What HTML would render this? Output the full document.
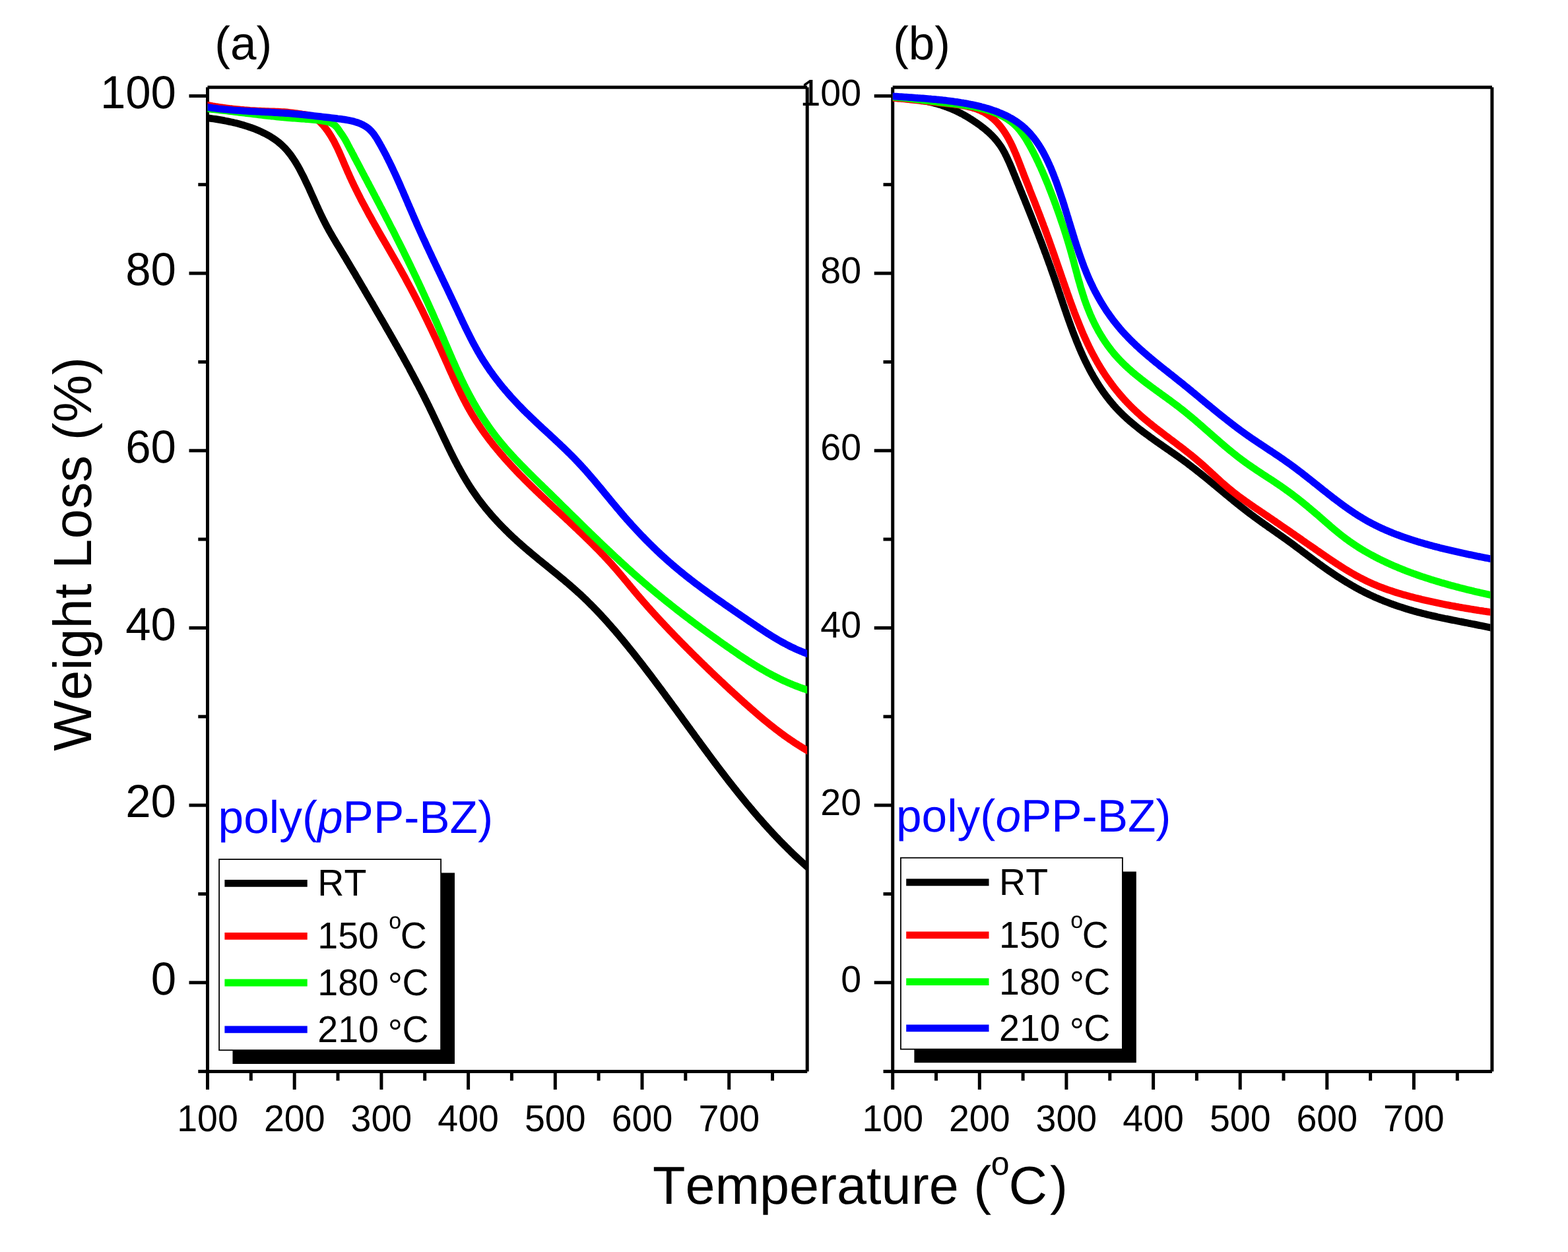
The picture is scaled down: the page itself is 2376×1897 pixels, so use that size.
<!DOCTYPE html>
<html lang="en">
<head>
<meta charset="utf-8">
<title>TGA curves of poly(pPP-BZ) and poly(oPP-BZ)</title>
<style>
html,body{margin:0;padding:0;background:#fff;}
body{width:2376px;height:1897px;overflow:hidden;}
svg{display:block;}
text{white-space:pre;font-kerning:none;font-variant-ligatures:none;text-rendering:geometricPrecision;}
</style>
</head>
<body>
<svg xmlns="http://www.w3.org/2000/svg" width="2376" height="1897" viewBox="0 0 2376 1897" font-family='"Liberation Sans", sans-serif'>
<rect x="0" y="0" width="2376" height="1897" fill="#ffffff"/>
<defs>
<clipPath id="clip_a"><rect x="314.5" y="132.2" width="908.7" height="1491.2"/></clipPath>
<clipPath id="clip_b"><rect x="1352.7" y="132.2" width="905.7" height="1491.2"/></clipPath>
</defs>
<g font-size="69" text-anchor="end" fill="#000">
<text transform="translate(267.0,163.7) scale(1,1.02)">100</text>
<text transform="translate(267.0,432.4) scale(1,1.02)">80</text>
<text transform="translate(267.0,701.1) scale(1,1.02)">60</text>
<text transform="translate(267.0,969.7) scale(1,1.02)">40</text>
<text transform="translate(267.0,1238.4) scale(1,1.02)">20</text>
<text transform="translate(267.0,1507.1) scale(1,1.02)">0</text>
</g>
<g font-size="55.5" text-anchor="end" fill="#000">
<text transform="translate(1305.1,159.9) scale(1,1.02)">100</text>
<text transform="translate(1305.1,428.6) scale(1,1.02)">80</text>
<text transform="translate(1305.1,697.3) scale(1,1.02)">60</text>
<text transform="translate(1305.1,965.9) scale(1,1.02)">40</text>
<text transform="translate(1305.1,1234.6) scale(1,1.02)">20</text>
<text transform="translate(1305.1,1503.3) scale(1,1.02)">0</text>
</g>
<g font-size="55.5" text-anchor="middle" fill="#000">
<text transform="translate(314.5,1714.3) scale(1,1.02)">100</text>
<text transform="translate(446.2,1714.3) scale(1,1.02)">200</text>
<text transform="translate(577.9,1714.3) scale(1,1.02)">300</text>
<text transform="translate(709.6,1714.3) scale(1,1.02)">400</text>
<text transform="translate(841.3,1714.3) scale(1,1.02)">500</text>
<text transform="translate(973.0,1714.3) scale(1,1.02)">600</text>
<text transform="translate(1104.7,1714.3) scale(1,1.02)">700</text>
</g>
<g font-size="55.5" text-anchor="middle" fill="#000">
<text transform="translate(1352.7,1714.3) scale(1,1.02)">100</text>
<text transform="translate(1484.3,1714.3) scale(1,1.02)">200</text>
<text transform="translate(1615.9,1714.3) scale(1,1.02)">300</text>
<text transform="translate(1747.6,1714.3) scale(1,1.02)">400</text>
<text transform="translate(1879.2,1714.3) scale(1,1.02)">500</text>
<text transform="translate(2010.8,1714.3) scale(1,1.02)">600</text>
<text transform="translate(2142.4,1714.3) scale(1,1.02)">700</text>
</g>
<g stroke="#000" stroke-width="5.0" fill="none" stroke-linecap="butt">
<path d="M314.5,132.2 H1223.2 M1223.2,132.2 V1623.4 M314.5,1623.4 H1223.2 M314.5,132.2 V1623.4"/>
<line x1="300.3" y1="1623.4" x2="314.5" y2="1623.4"/>
<line x1="286.5" y1="1488.8" x2="314.5" y2="1488.8"/>
<line x1="300.3" y1="1354.5" x2="314.5" y2="1354.5"/>
<line x1="286.5" y1="1220.1" x2="314.5" y2="1220.1"/>
<line x1="300.3" y1="1085.8" x2="314.5" y2="1085.8"/>
<line x1="286.5" y1="951.4" x2="314.5" y2="951.4"/>
<line x1="300.3" y1="817.1" x2="314.5" y2="817.1"/>
<line x1="286.5" y1="682.8" x2="314.5" y2="682.8"/>
<line x1="300.3" y1="548.4" x2="314.5" y2="548.4"/>
<line x1="286.5" y1="414.1" x2="314.5" y2="414.1"/>
<line x1="300.3" y1="279.7" x2="314.5" y2="279.7"/>
<line x1="286.5" y1="145.4" x2="314.5" y2="145.4"/>
<line x1="314.5" y1="1623.4" x2="314.5" y2="1650.9"/>
<line x1="380.3" y1="1623.4" x2="380.3" y2="1637.4"/>
<line x1="446.2" y1="1623.4" x2="446.2" y2="1650.9"/>
<line x1="512.0" y1="1623.4" x2="512.0" y2="1637.4"/>
<line x1="577.9" y1="1623.4" x2="577.9" y2="1650.9"/>
<line x1="643.7" y1="1623.4" x2="643.7" y2="1637.4"/>
<line x1="709.6" y1="1623.4" x2="709.6" y2="1650.9"/>
<line x1="775.4" y1="1623.4" x2="775.4" y2="1637.4"/>
<line x1="841.3" y1="1623.4" x2="841.3" y2="1650.9"/>
<line x1="907.1" y1="1623.4" x2="907.1" y2="1637.4"/>
<line x1="973.0" y1="1623.4" x2="973.0" y2="1650.9"/>
<line x1="1038.8" y1="1623.4" x2="1038.8" y2="1637.4"/>
<line x1="1104.7" y1="1623.4" x2="1104.7" y2="1650.9"/>
<line x1="1170.5" y1="1623.4" x2="1170.5" y2="1637.4"/>
</g>
<g stroke="#000" stroke-width="5.0" fill="none" stroke-linecap="butt">
<path d="M1352.7,132.2 H2260.9 M2260.9,132.2 V1623.4 M1352.7,1623.4 H2260.9 M1352.7,132.2 V1623.4"/>
<line x1="1338.5" y1="1623.4" x2="1352.7" y2="1623.4"/>
<line x1="1324.7" y1="1488.8" x2="1352.7" y2="1488.8"/>
<line x1="1338.5" y1="1354.5" x2="1352.7" y2="1354.5"/>
<line x1="1324.7" y1="1220.1" x2="1352.7" y2="1220.1"/>
<line x1="1338.5" y1="1085.8" x2="1352.7" y2="1085.8"/>
<line x1="1324.7" y1="951.4" x2="1352.7" y2="951.4"/>
<line x1="1338.5" y1="817.1" x2="1352.7" y2="817.1"/>
<line x1="1324.7" y1="682.8" x2="1352.7" y2="682.8"/>
<line x1="1338.5" y1="548.4" x2="1352.7" y2="548.4"/>
<line x1="1324.7" y1="414.1" x2="1352.7" y2="414.1"/>
<line x1="1338.5" y1="279.7" x2="1352.7" y2="279.7"/>
<line x1="1324.7" y1="145.4" x2="1352.7" y2="145.4"/>
<line x1="1352.7" y1="1623.4" x2="1352.7" y2="1650.9"/>
<line x1="1418.5" y1="1623.4" x2="1418.5" y2="1637.4"/>
<line x1="1484.3" y1="1623.4" x2="1484.3" y2="1650.9"/>
<line x1="1550.1" y1="1623.4" x2="1550.1" y2="1637.4"/>
<line x1="1615.9" y1="1623.4" x2="1615.9" y2="1650.9"/>
<line x1="1681.8" y1="1623.4" x2="1681.8" y2="1637.4"/>
<line x1="1747.6" y1="1623.4" x2="1747.6" y2="1650.9"/>
<line x1="1813.4" y1="1623.4" x2="1813.4" y2="1637.4"/>
<line x1="1879.2" y1="1623.4" x2="1879.2" y2="1650.9"/>
<line x1="1945.0" y1="1623.4" x2="1945.0" y2="1637.4"/>
<line x1="2010.8" y1="1623.4" x2="2010.8" y2="1650.9"/>
<line x1="2076.6" y1="1623.4" x2="2076.6" y2="1637.4"/>
<line x1="2142.4" y1="1623.4" x2="2142.4" y2="1650.9"/>
<line x1="2208.3" y1="1623.4" x2="2208.3" y2="1637.4"/>
</g>
<path d="M302.4,177.0 L314.4,178.8 L317.4,179.2 L320.4,179.6 L323.4,180.0 L326.4,180.4 L329.3,180.9 L332.3,181.4 L335.2,181.9 L338.1,182.4 L340.9,183.0 L343.8,183.5 L346.6,184.1 L349.4,184.7 L352.2,185.3 L355.0,186.0 L357.7,186.6 L360.5,187.3 L363.2,188.0 L365.8,188.8 L368.5,189.5 L371.1,190.3 L373.7,191.1 L376.3,192.0 L378.8,192.8 L381.3,193.7 L383.8,194.6 L386.3,195.6 L388.7,196.6 L391.1,197.6 L393.5,198.6 L395.9,199.7 L398.2,200.8 L400.5,201.9 L402.7,203.0 L405.0,204.2 L407.1,205.4 L409.3,206.7 L411.4,208.0 L413.5,209.3 L415.6,210.7 L417.6,212.1 L419.5,213.5 L421.5,215.0 L423.3,216.5 L425.2,218.1 L427.0,219.7 L428.7,221.4 L430.5,223.1 L432.1,224.8 L433.8,226.6 L435.3,228.4 L436.9,230.3 L438.4,232.2 L439.9,234.1 L441.4,236.1 L442.8,238.1 L444.2,240.1 L445.5,242.1 L446.9,244.2 L448.2,246.3 L449.4,248.4 L450.7,250.6 L452.0,252.8 L453.2,254.9 L454.4,257.1 L455.6,259.4 L456.7,261.6 L457.9,263.9 L459.1,266.1 L460.2,268.4 L461.3,270.7 L462.4,273.0 L463.5,275.3 L464.6,277.6 L465.7,279.9 L466.8,282.2 L467.9,284.6 L469.0,286.9 L470.0,289.3 L471.1,291.6 L472.1,294.0 L473.2,296.3 L474.3,298.7 L475.3,301.0 L476.4,303.4 L477.4,305.8 L478.5,308.1 L479.5,310.5 L480.6,312.8 L481.7,315.2 L482.7,317.5 L483.8,319.8 L484.9,322.2 L486.0,324.5 L487.1,326.8 L488.2,329.1 L489.3,331.4 L490.4,333.7 L491.6,335.9 L492.7,338.2 L493.9,340.4 L495.1,342.7 L496.3,344.9 L497.5,347.1 L498.7,349.3 L499.9,351.5 L501.2,353.6 L502.4,355.8 L503.7,358.0 L504.9,360.1 L506.2,362.3 L507.5,364.4 L508.7,366.5 L510.0,368.7 L511.3,370.8 L512.6,372.9 L513.9,375.1 L515.2,377.2 L516.5,379.3 L517.7,381.4 L519.0,383.6 L520.3,385.7 L521.6,387.8 L522.9,389.9 L524.2,392.1 L525.4,394.2 L526.7,396.3 L528.0,398.5 L529.3,400.6 L530.5,402.7 L531.8,404.9 L533.1,407.0 L534.4,409.2 L535.6,411.3 L536.9,413.4 L538.2,415.6 L539.4,417.7 L540.7,419.9 L542.0,422.0 L543.2,424.2 L544.5,426.3 L545.8,428.5 L547.0,430.6 L548.3,432.8 L549.5,434.9 L550.8,437.1 L552.1,439.2 L553.3,441.4 L554.6,443.5 L555.8,445.7 L557.1,447.8 L558.4,450.0 L559.6,452.1 L560.9,454.3 L562.1,456.4 L563.4,458.6 L564.7,460.7 L565.9,462.9 L567.2,465.0 L568.4,467.2 L569.7,469.3 L570.9,471.5 L572.2,473.7 L573.5,475.8 L574.7,478.0 L576.0,480.1 L577.2,482.3 L578.5,484.4 L579.7,486.6 L581.0,488.8 L582.2,490.9 L583.5,493.1 L584.7,495.2 L586.0,497.4 L587.2,499.6 L588.5,501.7 L589.7,503.9 L591.0,506.1 L592.2,508.2 L593.5,510.4 L594.7,512.6 L595.9,514.7 L597.2,516.9 L598.4,519.1 L599.6,521.3 L600.9,523.4 L602.1,525.6 L603.3,527.8 L604.6,530.0 L605.8,532.2 L607.0,534.4 L608.2,536.6 L609.5,538.7 L610.7,540.9 L611.9,543.1 L613.1,545.3 L614.3,547.5 L615.5,549.7 L616.7,551.9 L617.9,554.1 L619.2,556.3 L620.4,558.6 L621.5,560.8 L622.7,563.0 L623.9,565.2 L625.1,567.4 L626.3,569.6 L627.5,571.9 L628.7,574.1 L629.9,576.3 L631.0,578.6 L632.2,580.8 L633.4,583.0 L634.6,585.3 L635.7,587.5 L636.9,589.8 L638.1,592.0 L639.2,594.3 L640.4,596.5 L641.5,598.8 L642.7,601.1 L643.8,603.3 L644.9,605.6 L646.1,607.9 L647.2,610.2 L648.3,612.4 L649.5,614.7 L650.6,617.0 L651.7,619.3 L652.8,621.6 L653.9,623.9 L655.0,626.2 L656.1,628.5 L657.2,630.8 L658.3,633.1 L659.4,635.5 L660.5,637.8 L661.6,640.1 L662.7,642.4 L663.8,644.7 L664.9,647.1 L666.0,649.4 L667.1,651.7 L668.2,654.0 L669.3,656.3 L670.4,658.6 L671.5,661.0 L672.6,663.3 L673.7,665.6 L674.8,667.9 L675.9,670.2 L677.0,672.5 L678.1,674.8 L679.2,677.1 L680.3,679.4 L681.4,681.7 L682.6,684.0 L683.7,686.3 L684.8,688.5 L686.0,690.8 L687.1,693.1 L688.3,695.3 L689.4,697.6 L690.6,699.8 L691.8,702.1 L692.9,704.3 L694.1,706.5 L695.3,708.7 L696.5,710.9 L697.7,713.1 L699.0,715.3 L700.2,717.5 L701.4,719.7 L702.7,721.8 L704.0,724.0 L705.2,726.1 L706.5,728.3 L707.8,730.4 L709.1,732.5 L710.4,734.6 L711.7,736.7 L713.1,738.8 L714.4,740.8 L715.8,742.9 L717.2,744.9 L718.6,746.9 L720.0,748.9 L721.4,750.9 L722.8,752.9 L724.2,754.9 L725.7,756.9 L727.1,758.8 L728.6,760.7 L730.1,762.7 L731.6,764.6 L733.1,766.5 L734.6,768.4 L736.1,770.3 L737.7,772.1 L739.2,774.0 L740.8,775.9 L742.4,777.7 L743.9,779.5 L745.5,781.4 L747.1,783.2 L748.7,785.0 L750.4,786.8 L752.0,788.5 L753.6,790.3 L755.3,792.1 L756.9,793.8 L758.6,795.6 L760.3,797.3 L762.0,799.0 L763.7,800.7 L765.4,802.4 L767.1,804.1 L768.8,805.8 L770.5,807.5 L772.3,809.2 L774.0,810.9 L775.8,812.5 L777.5,814.2 L779.3,815.8 L781.1,817.4 L782.9,819.1 L784.7,820.7 L786.5,822.3 L788.3,823.9 L790.1,825.5 L791.9,827.1 L793.7,828.7 L795.6,830.3 L797.4,831.8 L799.2,833.4 L801.1,835.0 L802.9,836.5 L804.8,838.1 L806.6,839.6 L808.5,841.2 L810.4,842.7 L812.2,844.3 L814.1,845.8 L816.0,847.4 L817.9,848.9 L819.7,850.4 L821.6,852.0 L823.5,853.5 L825.4,855.0 L827.3,856.5 L829.2,858.1 L831.0,859.6 L832.9,861.1 L834.8,862.7 L836.7,864.2 L838.6,865.7 L840.4,867.3 L842.3,868.8 L844.2,870.3 L846.1,871.9 L847.9,873.4 L849.8,875.0 L851.7,876.5 L853.5,878.1 L855.4,879.6 L857.2,881.2 L859.1,882.7 L860.9,884.3 L862.7,885.9 L864.6,887.5 L866.4,889.1 L868.2,890.6 L870.0,892.2 L871.8,893.9 L873.6,895.5 L875.4,897.1 L877.2,898.7 L879.0,900.3 L880.8,902.0 L882.5,903.6 L884.3,905.3 L886.0,907.0 L887.8,908.6 L889.5,910.3 L891.2,912.0 L892.9,913.7 L894.6,915.4 L896.3,917.1 L898.0,918.8 L899.7,920.5 L901.4,922.3 L903.1,924.0 L904.8,925.8 L906.4,927.5 L908.1,929.3 L909.7,931.0 L911.4,932.8 L913.0,934.6 L914.6,936.3 L916.3,938.1 L917.9,939.9 L919.5,941.7 L921.1,943.5 L922.7,945.3 L924.3,947.1 L925.9,948.9 L927.5,950.8 L929.1,952.6 L930.7,954.4 L932.3,956.2 L933.8,958.1 L935.4,959.9 L937.0,961.8 L938.5,963.6 L940.1,965.5 L941.6,967.4 L943.2,969.2 L944.7,971.1 L946.3,972.9 L947.8,974.8 L949.3,976.7 L950.9,978.6 L952.4,980.5 L953.9,982.4 L955.4,984.3 L956.9,986.1 L958.5,988.0 L960.0,989.9 L961.5,991.8 L963.0,993.7 L964.5,995.7 L966.0,997.6 L967.5,999.5 L969.0,1001.4 L970.5,1003.3 L972.0,1005.2 L973.5,1007.2 L975.0,1009.1 L976.4,1011.0 L977.9,1012.9 L979.4,1014.9 L980.9,1016.8 L982.3,1018.7 L983.8,1020.7 L985.3,1022.6 L986.8,1024.6 L988.2,1026.5 L989.7,1028.5 L991.2,1030.4 L992.6,1032.4 L994.1,1034.3 L995.5,1036.2 L997.0,1038.2 L998.5,1040.2 L999.9,1042.1 L1001.4,1044.1 L1002.8,1046.0 L1004.3,1048.0 L1005.7,1050.0 L1007.2,1051.9 L1008.6,1053.9 L1010.1,1055.9 L1011.5,1057.8 L1012.9,1059.8 L1014.4,1061.8 L1015.8,1063.7 L1017.3,1065.7 L1018.7,1067.7 L1020.1,1069.6 L1021.6,1071.6 L1023.0,1073.6 L1024.5,1075.6 L1025.9,1077.5 L1027.3,1079.5 L1028.8,1081.5 L1030.2,1083.5 L1031.7,1085.4 L1033.1,1087.4 L1034.5,1089.4 L1036.0,1091.4 L1037.4,1093.3 L1038.8,1095.3 L1040.3,1097.3 L1041.7,1099.3 L1043.1,1101.2 L1044.6,1103.2 L1046.0,1105.2 L1047.5,1107.2 L1048.9,1109.1 L1050.3,1111.1 L1051.8,1113.1 L1053.2,1115.1 L1054.6,1117.0 L1056.1,1119.0 L1057.5,1121.0 L1059.0,1122.9 L1060.4,1124.9 L1061.8,1126.9 L1063.3,1128.8 L1064.7,1130.8 L1066.2,1132.8 L1067.6,1134.7 L1069.1,1136.7 L1070.5,1138.7 L1072.0,1140.6 L1073.4,1142.6 L1074.9,1144.5 L1076.3,1146.5 L1077.8,1148.5 L1079.2,1150.4 L1080.7,1152.4 L1082.2,1154.3 L1083.6,1156.3 L1085.1,1158.2 L1086.6,1160.2 L1088.0,1162.1 L1089.5,1164.1 L1091.0,1166.0 L1092.4,1167.9 L1093.9,1169.9 L1095.4,1171.8 L1096.9,1173.7 L1098.4,1175.7 L1099.8,1177.6 L1101.3,1179.5 L1102.8,1181.4 L1104.3,1183.4 L1105.8,1185.3 L1107.3,1187.2 L1108.8,1189.1 L1110.3,1191.0 L1111.8,1192.9 L1113.3,1194.8 L1114.8,1196.7 L1116.3,1198.6 L1117.8,1200.5 L1119.4,1202.4 L1120.9,1204.3 L1122.4,1206.2 L1123.9,1208.1 L1125.5,1210.0 L1127.0,1211.8 L1128.5,1213.7 L1130.1,1215.6 L1131.6,1217.5 L1133.2,1219.3 L1134.7,1221.2 L1136.3,1223.0 L1137.8,1224.9 L1139.4,1226.7 L1140.9,1228.6 L1142.5,1230.4 L1144.1,1232.3 L1145.7,1234.1 L1147.2,1235.9 L1148.8,1237.8 L1150.4,1239.6 L1152.0,1241.4 L1153.6,1243.2 L1155.2,1245.0 L1156.8,1246.8 L1158.4,1248.7 L1160.0,1250.4 L1161.6,1252.2 L1163.3,1254.0 L1164.9,1255.8 L1166.5,1257.6 L1168.2,1259.4 L1169.8,1261.2 L1171.4,1262.9 L1173.1,1264.7 L1174.7,1266.4 L1176.4,1268.2 L1178.1,1269.9 L1179.7,1271.7 L1181.4,1273.4 L1183.1,1275.2 L1184.8,1276.9 L1186.5,1278.6 L1188.1,1280.3 L1189.9,1282.0 L1191.6,1283.7 L1193.3,1285.4 L1195.0,1287.1 L1196.7,1288.8 L1198.4,1290.5 L1200.2,1292.2 L1201.9,1293.9 L1203.6,1295.5 L1205.4,1297.2 L1207.1,1298.8 L1208.9,1300.5 L1210.7,1302.1 L1212.4,1303.8 L1214.2,1305.4 L1216.0,1307.0 L1217.8,1308.7 L1219.6,1310.3 L1221.4,1311.9 L1223.2,1313.5 L1235.2,1324.3" fill="none" stroke="#000000" stroke-width="10.8" stroke-linejoin="round" stroke-linecap="butt" clip-path="url(#clip_a)"/>
<path d="M302.5,157.3 L314.5,159.3 L317.2,159.8 L319.8,160.3 L322.5,160.8 L325.2,161.2 L327.9,161.7 L330.6,162.1 L333.4,162.5 L336.1,162.9 L338.9,163.3 L341.7,163.7 L344.5,164.0 L347.3,164.4 L350.1,164.7 L352.9,165.0 L355.7,165.3 L358.6,165.6 L361.5,165.9 L364.3,166.2 L367.2,166.4 L370.1,166.7 L373.1,166.9 L376.0,167.1 L378.9,167.4 L381.9,167.6 L384.8,167.7 L387.8,167.9 L390.8,168.1 L393.8,168.2 L396.8,168.4 L399.8,168.5 L402.9,168.6 L405.9,168.7 L409.0,168.8 L412.0,168.9 L415.1,169.0 L418.1,169.1 L421.1,169.2 L424.1,169.4 L427.1,169.6 L430.1,169.7 L433.0,169.9 L435.9,170.2 L438.8,170.5 L441.6,170.8 L444.4,171.2 L447.2,171.5 L449.9,171.9 L452.7,172.3 L455.4,172.7 L458.2,173.1 L461.0,173.4 L463.8,173.8 L466.5,174.3 L469.0,174.9 L471.4,175.7 L473.6,176.6 L475.7,177.7 L477.6,178.9 L479.5,180.1 L481.3,181.5 L483.0,183.0 L484.6,184.5 L486.2,186.1 L487.7,187.7 L489.2,189.3 L490.7,191.0 L492.1,192.7 L493.5,194.5 L494.8,196.3 L496.2,198.1 L497.5,200.0 L498.7,201.9 L500.0,203.8 L501.2,205.7 L502.4,207.7 L503.5,209.7 L504.7,211.7 L505.8,213.7 L506.9,215.8 L507.9,217.8 L509.0,219.9 L510.0,222.0 L511.1,224.2 L512.1,226.3 L513.1,228.5 L514.1,230.6 L515.0,232.8 L516.0,235.0 L517.0,237.2 L517.9,239.4 L518.9,241.6 L519.8,243.8 L520.7,246.0 L521.7,248.2 L522.6,250.4 L523.6,252.6 L524.5,254.8 L525.5,257.0 L526.4,259.2 L527.4,261.4 L528.4,263.6 L529.3,265.7 L530.3,267.9 L531.3,270.1 L532.3,272.2 L533.3,274.4 L534.3,276.5 L535.3,278.6 L536.3,280.8 L537.4,282.9 L538.4,285.0 L539.4,287.1 L540.5,289.2 L541.5,291.3 L542.6,293.4 L543.6,295.5 L544.7,297.6 L545.8,299.7 L546.8,301.8 L547.9,303.8 L549.0,305.9 L550.1,308.0 L551.2,310.0 L552.3,312.1 L553.4,314.1 L554.5,316.2 L555.6,318.2 L556.7,320.3 L557.8,322.3 L558.9,324.3 L560.0,326.4 L561.2,328.4 L562.3,330.4 L563.4,332.4 L564.5,334.5 L565.7,336.5 L566.8,338.5 L567.9,340.5 L569.1,342.5 L570.2,344.5 L571.4,346.5 L572.5,348.5 L573.6,350.6 L574.8,352.6 L575.9,354.6 L577.1,356.6 L578.2,358.6 L579.4,360.6 L580.5,362.5 L581.7,364.5 L582.8,366.5 L584.0,368.5 L585.2,370.5 L586.3,372.5 L587.5,374.5 L588.6,376.5 L589.8,378.5 L590.9,380.5 L592.1,382.5 L593.2,384.5 L594.4,386.5 L595.5,388.5 L596.7,390.5 L597.8,392.5 L599.0,394.5 L600.1,396.5 L601.3,398.5 L602.4,400.5 L603.5,402.5 L604.7,404.5 L605.8,406.6 L607.0,408.6 L608.1,410.6 L609.2,412.6 L610.3,414.6 L611.5,416.7 L612.6,418.7 L613.7,420.7 L614.8,422.8 L615.9,424.8 L617.0,426.8 L618.1,428.9 L619.2,430.9 L620.3,433.0 L621.4,435.0 L622.5,437.1 L623.6,439.1 L624.7,441.2 L625.8,443.3 L626.9,445.3 L628.0,447.4 L629.0,449.5 L630.1,451.6 L631.2,453.6 L632.3,455.7 L633.3,457.8 L634.4,459.9 L635.4,462.0 L636.5,464.1 L637.6,466.2 L638.6,468.2 L639.7,470.3 L640.7,472.4 L641.8,474.6 L642.8,476.7 L643.8,478.8 L644.9,480.9 L645.9,483.0 L646.9,485.1 L648.0,487.2 L649.0,489.4 L650.0,491.5 L651.0,493.6 L652.1,495.7 L653.1,497.9 L654.1,500.0 L655.1,502.1 L656.1,504.3 L657.1,506.4 L658.1,508.6 L659.1,510.7 L660.2,512.8 L661.2,515.0 L662.2,517.1 L663.1,519.3 L664.1,521.5 L665.1,523.6 L666.1,525.8 L667.1,527.9 L668.1,530.1 L669.1,532.3 L670.1,534.4 L671.0,536.6 L672.0,538.8 L673.0,540.9 L674.0,543.1 L674.9,545.3 L675.9,547.5 L676.9,549.6 L677.9,551.8 L678.8,554.0 L679.8,556.2 L680.8,558.4 L681.7,560.5 L682.7,562.7 L683.7,564.9 L684.7,567.1 L685.6,569.2 L686.6,571.4 L687.6,573.6 L688.6,575.7 L689.6,577.9 L690.6,580.0 L691.6,582.2 L692.6,584.3 L693.6,586.5 L694.6,588.6 L695.6,590.7 L696.7,592.9 L697.7,595.0 L698.7,597.1 L699.8,599.2 L700.8,601.3 L701.9,603.4 L702.9,605.5 L704.0,607.5 L705.1,609.6 L706.2,611.7 L707.3,613.7 L708.4,615.8 L709.5,617.8 L710.7,619.8 L711.8,621.8 L713.0,623.8 L714.1,625.8 L715.3,627.8 L716.5,629.7 L717.7,631.7 L718.9,633.6 L720.1,635.6 L721.3,637.5 L722.5,639.4 L723.8,641.3 L725.0,643.2 L726.3,645.1 L727.6,647.0 L728.8,648.9 L730.1,650.7 L731.4,652.6 L732.7,654.4 L734.0,656.3 L735.4,658.1 L736.7,659.9 L738.0,661.7 L739.4,663.5 L740.7,665.3 L742.1,667.1 L743.5,668.9 L744.9,670.6 L746.2,672.4 L747.6,674.2 L749.0,675.9 L750.4,677.6 L751.9,679.4 L753.3,681.1 L754.7,682.8 L756.2,684.5 L757.6,686.2 L759.0,687.9 L760.5,689.6 L762.0,691.3 L763.4,693.0 L764.9,694.7 L766.4,696.4 L767.9,698.0 L769.4,699.7 L770.9,701.3 L772.4,703.0 L773.9,704.6 L775.4,706.2 L776.9,707.9 L778.4,709.5 L780.0,711.1 L781.5,712.7 L783.0,714.4 L784.6,716.0 L786.1,717.6 L787.7,719.2 L789.2,720.7 L790.8,722.3 L792.4,723.9 L793.9,725.5 L795.5,727.1 L797.1,728.7 L798.6,730.2 L800.2,731.8 L801.8,733.4 L803.4,734.9 L805.0,736.5 L806.6,738.0 L808.2,739.6 L809.8,741.1 L811.4,742.7 L813.0,744.2 L814.6,745.8 L816.2,747.3 L817.8,748.8 L819.4,750.4 L821.1,751.9 L822.7,753.4 L824.3,755.0 L825.9,756.5 L827.5,758.0 L829.2,759.5 L830.8,761.1 L832.4,762.6 L834.1,764.1 L835.7,765.6 L837.3,767.1 L838.9,768.7 L840.6,770.2 L842.2,771.7 L843.8,773.2 L845.5,774.7 L847.1,776.2 L848.7,777.8 L850.4,779.3 L852.0,780.8 L853.6,782.3 L855.3,783.8 L856.9,785.3 L858.5,786.9 L860.2,788.4 L861.8,789.9 L863.4,791.4 L865.0,793.0 L866.7,794.5 L868.3,796.0 L869.9,797.5 L871.5,799.1 L873.2,800.6 L874.8,802.1 L876.4,803.7 L878.0,805.2 L879.6,806.7 L881.2,808.3 L882.8,809.8 L884.4,811.4 L886.0,812.9 L887.6,814.5 L889.2,816.0 L890.8,817.6 L892.4,819.1 L894.0,820.7 L895.6,822.3 L897.2,823.8 L898.7,825.4 L900.3,827.0 L901.9,828.6 L903.4,830.1 L905.0,831.7 L906.6,833.3 L908.1,834.9 L909.7,836.5 L911.2,838.1 L912.7,839.7 L914.3,841.3 L915.8,843.0 L917.3,844.6 L918.9,846.2 L920.4,847.9 L921.9,849.5 L923.4,851.1 L924.9,852.8 L926.4,854.4 L927.9,856.1 L929.3,857.8 L930.8,859.4 L932.3,861.1 L933.8,862.8 L935.2,864.5 L936.7,866.2 L938.1,867.9 L939.6,869.6 L941.0,871.3 L942.4,873.0 L943.9,874.7 L945.3,876.4 L946.7,878.2 L948.2,879.9 L949.6,881.6 L951.0,883.3 L952.5,885.1 L953.9,886.8 L955.3,888.5 L956.7,890.2 L958.2,891.9 L959.6,893.7 L961.0,895.4 L962.5,897.1 L963.9,898.8 L965.3,900.5 L966.8,902.2 L968.2,903.9 L969.7,905.6 L971.2,907.3 L972.6,909.0 L974.1,910.7 L975.5,912.4 L977.0,914.0 L978.5,915.7 L980.0,917.4 L981.4,919.1 L982.9,920.7 L984.4,922.4 L985.9,924.1 L987.4,925.7 L988.9,927.4 L990.4,929.0 L991.9,930.7 L993.4,932.3 L994.9,934.0 L996.4,935.6 L997.9,937.2 L999.4,938.9 L1000.9,940.5 L1002.4,942.1 L1004.0,943.8 L1005.5,945.4 L1007.0,947.0 L1008.5,948.6 L1010.1,950.3 L1011.6,951.9 L1013.1,953.5 L1014.7,955.1 L1016.2,956.7 L1017.8,958.3 L1019.3,959.9 L1020.8,961.5 L1022.4,963.1 L1023.9,964.7 L1025.5,966.3 L1027.0,967.9 L1028.6,969.5 L1030.2,971.1 L1031.7,972.7 L1033.3,974.3 L1034.8,975.9 L1036.4,977.5 L1038.0,979.0 L1039.5,980.6 L1041.1,982.2 L1042.7,983.8 L1044.3,985.4 L1045.8,986.9 L1047.4,988.5 L1049.0,990.1 L1050.6,991.6 L1052.1,993.2 L1053.7,994.8 L1055.3,996.3 L1056.9,997.9 L1058.5,999.5 L1060.1,1001.0 L1061.7,1002.6 L1063.3,1004.1 L1064.9,1005.7 L1066.5,1007.3 L1068.1,1008.8 L1069.7,1010.4 L1071.3,1011.9 L1072.9,1013.5 L1074.5,1015.0 L1076.1,1016.5 L1077.7,1018.1 L1079.3,1019.6 L1080.9,1021.2 L1082.5,1022.7 L1084.1,1024.2 L1085.7,1025.8 L1087.3,1027.3 L1089.0,1028.8 L1090.6,1030.4 L1092.2,1031.9 L1093.8,1033.4 L1095.5,1034.9 L1097.1,1036.5 L1098.7,1038.0 L1100.3,1039.5 L1102.0,1041.0 L1103.6,1042.5 L1105.2,1044.1 L1106.9,1045.6 L1108.5,1047.1 L1110.2,1048.6 L1111.8,1050.1 L1113.4,1051.6 L1115.1,1053.1 L1116.7,1054.6 L1118.4,1056.1 L1120.0,1057.6 L1121.7,1059.1 L1123.3,1060.6 L1125.0,1062.1 L1126.6,1063.6 L1128.3,1065.1 L1130.0,1066.6 L1131.6,1068.1 L1133.3,1069.5 L1135.0,1071.0 L1136.6,1072.5 L1138.3,1074.0 L1140.0,1075.5 L1141.7,1076.9 L1143.3,1078.4 L1145.0,1079.8 L1146.7,1081.3 L1148.4,1082.8 L1150.1,1084.2 L1151.8,1085.7 L1153.5,1087.1 L1155.2,1088.5 L1156.9,1090.0 L1158.7,1091.4 L1160.4,1092.8 L1162.1,1094.2 L1163.9,1095.7 L1165.6,1097.1 L1167.4,1098.5 L1169.1,1099.9 L1170.9,1101.2 L1172.6,1102.6 L1174.4,1104.0 L1176.2,1105.4 L1178.0,1106.7 L1179.8,1108.1 L1181.6,1109.5 L1183.4,1110.8 L1185.2,1112.1 L1187.0,1113.5 L1188.8,1114.8 L1190.7,1116.1 L1192.5,1117.4 L1194.4,1118.7 L1196.2,1120.0 L1198.1,1121.3 L1200.0,1122.5 L1201.9,1123.8 L1203.7,1125.1 L1205.6,1126.3 L1207.6,1127.5 L1209.5,1128.8 L1211.4,1130.0 L1213.4,1131.2 L1215.3,1132.4 L1217.3,1133.6 L1219.2,1134.8 L1221.2,1135.9 L1223.2,1137.1 L1235.2,1144.3" fill="none" stroke="#ff0000" stroke-width="10.8" stroke-linejoin="round" stroke-linecap="butt" clip-path="url(#clip_a)"/>
<path d="M302.5,163.5 L314.5,164.7 L317.2,165.0 L319.9,165.3 L322.6,165.6 L325.3,165.9 L328.0,166.2 L330.7,166.5 L333.4,166.8 L336.1,167.1 L338.8,167.4 L341.4,167.7 L344.1,168.0 L346.8,168.3 L349.4,168.6 L352.1,169.0 L354.8,169.3 L357.4,169.6 L360.1,169.9 L362.7,170.3 L365.4,170.6 L368.1,170.9 L370.7,171.2 L373.4,171.6 L376.1,171.9 L378.7,172.2 L381.4,172.5 L384.0,172.9 L386.7,173.2 L389.4,173.5 L392.0,173.8 L394.7,174.1 L397.4,174.4 L400.1,174.8 L402.8,175.1 L405.4,175.4 L408.1,175.7 L410.8,176.0 L413.5,176.2 L416.2,176.5 L418.9,176.8 L421.7,177.1 L424.4,177.3 L427.1,177.6 L429.9,177.8 L432.6,178.1 L435.3,178.3 L438.1,178.6 L440.9,178.8 L443.6,179.0 L446.4,179.2 L449.2,179.4 L452.0,179.6 L454.8,179.8 L457.5,180.0 L460.3,180.2 L463.1,180.5 L465.8,180.7 L468.6,180.9 L471.4,181.1 L474.1,181.4 L476.8,181.7 L479.5,181.9 L482.2,182.2 L484.9,182.6 L487.5,182.9 L490.1,183.3 L492.7,183.7 L495.2,184.2 L497.6,184.8 L499.8,185.5 L502.0,186.4 L503.9,187.4 L505.8,188.6 L507.4,189.9 L508.9,191.4 L510.3,192.9 L511.7,194.6 L512.9,196.4 L514.1,198.1 L515.3,199.9 L516.5,201.7 L517.8,203.5 L519.0,205.2 L520.2,207.0 L521.3,208.8 L522.5,210.7 L523.6,212.6 L524.6,214.5 L525.7,216.4 L526.7,218.4 L527.7,220.4 L528.8,222.3 L529.8,224.3 L530.8,226.2 L531.9,228.2 L532.9,230.1 L533.9,232.1 L535.0,234.0 L536.0,236.0 L537.0,238.0 L538.0,239.9 L539.1,241.9 L540.1,243.8 L541.1,245.8 L542.2,247.7 L543.2,249.7 L544.2,251.6 L545.3,253.6 L546.3,255.6 L547.3,257.5 L548.4,259.5 L549.4,261.4 L550.4,263.4 L551.5,265.3 L552.5,267.3 L553.5,269.2 L554.6,271.2 L555.6,273.1 L556.6,275.1 L557.7,277.0 L558.7,279.0 L559.7,281.0 L560.8,282.9 L561.8,284.9 L562.8,286.8 L563.9,288.8 L564.9,290.7 L565.9,292.7 L567.0,294.6 L568.0,296.6 L569.0,298.6 L570.1,300.5 L571.1,302.5 L572.1,304.4 L573.1,306.4 L574.2,308.4 L575.2,310.3 L576.2,312.3 L577.2,314.2 L578.3,316.2 L579.3,318.2 L580.3,320.1 L581.3,322.1 L582.4,324.1 L583.4,326.0 L584.4,328.0 L585.4,330.0 L586.4,331.9 L587.5,333.9 L588.5,335.9 L589.5,337.8 L590.5,339.8 L591.5,341.8 L592.5,343.8 L593.5,345.7 L594.6,347.7 L595.6,349.7 L596.6,351.7 L597.6,353.6 L598.6,355.6 L599.6,357.6 L600.6,359.6 L601.6,361.6 L602.6,363.6 L603.6,365.5 L604.6,367.5 L605.6,369.5 L606.6,371.5 L607.6,373.5 L608.6,375.5 L609.6,377.5 L610.6,379.5 L611.6,381.5 L612.5,383.5 L613.5,385.5 L614.5,387.5 L615.5,389.5 L616.5,391.5 L617.5,393.5 L618.5,395.5 L619.4,397.5 L620.4,399.5 L621.4,401.5 L622.4,403.6 L623.3,405.6 L624.3,407.6 L625.3,409.6 L626.2,411.6 L627.2,413.6 L628.2,415.7 L629.1,417.7 L630.1,419.7 L631.1,421.7 L632.0,423.8 L633.0,425.8 L633.9,427.8 L634.9,429.9 L635.8,431.9 L636.8,433.9 L637.7,436.0 L638.7,438.0 L639.6,440.1 L640.6,442.1 L641.5,444.1 L642.5,446.2 L643.4,448.2 L644.3,450.3 L645.3,452.3 L646.2,454.4 L647.1,456.4 L648.1,458.5 L649.0,460.5 L649.9,462.6 L650.9,464.7 L651.8,466.7 L652.7,468.8 L653.6,470.8 L654.6,472.9 L655.5,475.0 L656.4,477.0 L657.3,479.1 L658.2,481.2 L659.1,483.3 L660.1,485.3 L661.0,487.4 L661.9,489.5 L662.8,491.6 L663.7,493.7 L664.6,495.7 L665.5,497.8 L666.4,499.9 L667.3,502.0 L668.2,504.1 L669.1,506.2 L670.0,508.3 L670.9,510.4 L671.8,512.5 L672.7,514.6 L673.5,516.7 L674.4,518.7 L675.3,520.8 L676.2,522.9 L677.1,525.0 L678.0,527.1 L678.9,529.2 L679.8,531.3 L680.7,533.4 L681.6,535.5 L682.5,537.6 L683.4,539.7 L684.3,541.7 L685.2,543.8 L686.1,545.9 L687.0,548.0 L688.0,550.0 L688.9,552.1 L689.8,554.2 L690.7,556.2 L691.6,558.3 L692.6,560.4 L693.5,562.4 L694.5,564.5 L695.4,566.5 L696.4,568.5 L697.3,570.6 L698.3,572.6 L699.2,574.6 L700.2,576.6 L701.2,578.6 L702.2,580.6 L703.1,582.7 L704.1,584.6 L705.1,586.6 L706.1,588.6 L707.2,590.6 L708.2,592.6 L709.2,594.5 L710.2,596.5 L711.3,598.4 L712.3,600.4 L713.4,602.3 L714.4,604.2 L715.5,606.2 L716.5,608.1 L717.6,610.0 L718.7,611.9 L719.8,613.8 L720.9,615.7 L722.0,617.6 L723.1,619.4 L724.2,621.3 L725.4,623.2 L726.5,625.0 L727.6,626.9 L728.8,628.7 L729.9,630.5 L731.1,632.3 L732.3,634.2 L733.5,636.0 L734.7,637.8 L735.8,639.6 L737.1,641.3 L738.3,643.1 L739.5,644.9 L740.7,646.6 L742.0,648.4 L743.2,650.1 L744.5,651.9 L745.7,653.6 L747.0,655.3 L748.3,657.0 L749.6,658.7 L750.8,660.4 L752.2,662.1 L753.5,663.8 L754.8,665.4 L756.1,667.1 L757.5,668.7 L758.8,670.4 L760.2,672.0 L761.5,673.6 L762.9,675.3 L764.3,676.9 L765.6,678.5 L767.0,680.1 L768.4,681.7 L769.8,683.2 L771.2,684.8 L772.7,686.4 L774.1,688.0 L775.5,689.5 L776.9,691.1 L778.4,692.6 L779.8,694.2 L781.3,695.7 L782.7,697.3 L784.2,698.8 L785.6,700.3 L787.1,701.8 L788.6,703.4 L790.0,704.9 L791.5,706.4 L793.0,707.9 L794.5,709.4 L796.0,710.9 L797.4,712.4 L798.9,713.9 L800.4,715.4 L801.9,716.9 L803.4,718.4 L804.9,719.8 L806.4,721.3 L807.9,722.8 L809.4,724.3 L810.9,725.8 L812.5,727.2 L814.0,728.7 L815.5,730.2 L817.0,731.7 L818.5,733.2 L820.0,734.6 L821.5,736.1 L823.0,737.6 L824.6,739.1 L826.1,740.5 L827.6,742.0 L829.1,743.5 L830.6,745.0 L832.1,746.4 L833.6,747.9 L835.1,749.4 L836.6,750.9 L838.1,752.4 L839.6,753.8 L841.1,755.3 L842.6,756.8 L844.2,758.3 L845.7,759.8 L847.2,761.3 L848.7,762.7 L850.2,764.2 L851.7,765.7 L853.2,767.2 L854.7,768.7 L856.2,770.1 L857.7,771.6 L859.2,773.1 L860.7,774.6 L862.2,776.1 L863.7,777.5 L865.2,779.0 L866.7,780.5 L868.3,782.0 L869.8,783.5 L871.3,784.9 L872.8,786.4 L874.3,787.9 L875.8,789.4 L877.3,790.9 L878.8,792.3 L880.3,793.8 L881.8,795.3 L883.3,796.8 L884.9,798.2 L886.4,799.7 L887.9,801.2 L889.4,802.7 L890.9,804.1 L892.4,805.6 L893.9,807.1 L895.5,808.6 L897.0,810.0 L898.5,811.5 L900.0,813.0 L901.5,814.4 L903.1,815.9 L904.6,817.4 L906.1,818.8 L907.6,820.3 L909.2,821.7 L910.7,823.2 L912.2,824.7 L913.7,826.1 L915.3,827.6 L916.8,829.0 L918.3,830.5 L919.9,831.9 L921.4,833.4 L922.9,834.8 L924.5,836.3 L926.0,837.7 L927.6,839.2 L929.1,840.6 L930.6,842.1 L932.2,843.5 L933.7,845.0 L935.3,846.4 L936.8,847.8 L938.4,849.3 L939.9,850.7 L941.5,852.1 L943.0,853.6 L944.6,855.0 L946.2,856.4 L947.7,857.8 L949.3,859.3 L950.9,860.7 L952.4,862.1 L954.0,863.5 L955.6,864.9 L957.1,866.4 L958.7,867.8 L960.3,869.2 L961.9,870.6 L963.5,872.0 L965.0,873.4 L966.6,874.8 L968.2,876.2 L969.8,877.6 L971.4,879.0 L973.0,880.4 L974.6,881.8 L976.2,883.2 L977.8,884.5 L979.4,885.9 L981.0,887.3 L982.6,888.7 L984.2,890.0 L985.8,891.4 L987.5,892.8 L989.1,894.2 L990.7,895.5 L992.3,896.9 L994.0,898.2 L995.6,899.6 L997.2,901.0 L998.9,902.3 L1000.5,903.7 L1002.1,905.0 L1003.8,906.3 L1005.4,907.7 L1007.1,909.0 L1008.7,910.4 L1010.4,911.7 L1012.1,913.0 L1013.7,914.3 L1015.4,915.7 L1017.0,917.0 L1018.7,918.3 L1020.4,919.6 L1022.0,920.9 L1023.7,922.3 L1025.4,923.6 L1027.1,924.9 L1028.8,926.2 L1030.4,927.5 L1032.1,928.8 L1033.8,930.1 L1035.5,931.4 L1037.2,932.7 L1038.9,934.0 L1040.6,935.3 L1042.3,936.5 L1044.0,937.8 L1045.7,939.1 L1047.4,940.4 L1049.1,941.7 L1050.8,942.9 L1052.5,944.2 L1054.2,945.5 L1056.0,946.8 L1057.7,948.0 L1059.4,949.3 L1061.1,950.6 L1062.8,951.8 L1064.6,953.1 L1066.3,954.4 L1068.0,955.6 L1069.8,956.9 L1071.5,958.1 L1073.2,959.4 L1074.9,960.6 L1076.7,961.9 L1078.4,963.1 L1080.2,964.4 L1081.9,965.6 L1083.6,966.9 L1085.4,968.1 L1087.1,969.4 L1088.9,970.6 L1090.6,971.8 L1092.4,973.1 L1094.1,974.3 L1095.9,975.6 L1097.6,976.8 L1099.4,978.0 L1101.2,979.3 L1102.9,980.5 L1104.7,981.7 L1106.4,982.9 L1108.2,984.2 L1110.0,985.4 L1111.7,986.6 L1113.5,987.8 L1115.3,989.0 L1117.0,990.2 L1118.8,991.5 L1120.6,992.7 L1122.4,993.9 L1124.2,995.1 L1126.0,996.3 L1127.8,997.4 L1129.6,998.6 L1131.4,999.8 L1133.2,1001.0 L1135.0,1002.2 L1136.8,1003.3 L1138.7,1004.5 L1140.5,1005.6 L1142.3,1006.8 L1144.2,1007.9 L1146.0,1009.1 L1147.9,1010.2 L1149.7,1011.3 L1151.6,1012.4 L1153.5,1013.5 L1155.4,1014.6 L1157.3,1015.7 L1159.2,1016.8 L1161.1,1017.9 L1163.0,1019.0 L1164.9,1020.0 L1166.9,1021.1 L1168.8,1022.1 L1170.8,1023.1 L1172.7,1024.2 L1174.7,1025.2 L1176.7,1026.2 L1178.7,1027.2 L1180.7,1028.2 L1182.7,1029.1 L1184.7,1030.1 L1186.8,1031.1 L1188.8,1032.0 L1190.9,1032.9 L1192.9,1033.8 L1195.0,1034.7 L1197.1,1035.6 L1199.2,1036.5 L1201.3,1037.4 L1203.5,1038.3 L1205.6,1039.1 L1207.8,1039.9 L1209.9,1040.7 L1212.1,1041.6 L1214.3,1042.3 L1216.5,1043.1 L1218.7,1043.9 L1221.0,1044.6 L1223.2,1045.4 L1235.2,1049.5" fill="none" stroke="#00ff00" stroke-width="10.8" stroke-linejoin="round" stroke-linecap="butt" clip-path="url(#clip_a)"/>
<path d="M302.6,160.7 L314.6,162.4 L317.1,162.8 L319.6,163.2 L322.2,163.6 L324.7,163.9 L327.3,164.2 L329.9,164.6 L332.5,164.9 L335.1,165.1 L337.7,165.4 L340.3,165.7 L343.0,165.9 L345.6,166.2 L348.3,166.4 L351.0,166.6 L353.6,166.9 L356.3,167.1 L359.0,167.3 L361.8,167.4 L364.5,167.6 L367.2,167.8 L369.9,168.0 L372.7,168.1 L375.4,168.3 L378.1,168.5 L380.9,168.6 L383.6,168.8 L386.4,168.9 L389.1,169.0 L391.9,169.2 L394.7,169.3 L397.4,169.5 L400.2,169.6 L402.9,169.8 L405.7,169.9 L408.4,170.0 L411.2,170.2 L414.0,170.3 L416.7,170.5 L419.4,170.6 L422.2,170.8 L424.9,171.0 L427.6,171.1 L430.4,171.3 L433.1,171.5 L435.8,171.7 L438.5,171.9 L441.2,172.1 L443.8,172.3 L446.5,172.6 L449.2,172.8 L451.8,173.0 L454.5,173.3 L457.1,173.5 L459.8,173.8 L462.4,174.1 L465.0,174.3 L467.7,174.6 L470.3,174.9 L472.9,175.2 L475.5,175.5 L478.1,175.8 L480.7,176.1 L483.3,176.4 L485.9,176.7 L488.5,177.0 L491.1,177.3 L493.7,177.6 L496.3,177.9 L498.9,178.2 L501.5,178.5 L504.0,178.8 L506.6,179.1 L509.2,179.4 L511.8,179.8 L514.4,180.1 L516.9,180.4 L519.5,180.8 L522.0,181.2 L524.5,181.6 L526.9,182.0 L529.4,182.5 L531.8,183.0 L534.1,183.5 L536.4,184.1 L538.7,184.8 L540.9,185.5 L543.0,186.2 L545.1,187.0 L547.2,187.9 L549.1,188.8 L551.0,189.8 L552.9,190.9 L554.7,192.0 L556.4,193.2 L558.0,194.4 L559.6,195.8 L561.1,197.2 L562.5,198.6 L563.9,200.2 L565.2,201.7 L566.5,203.4 L567.7,205.1 L568.8,206.8 L570.0,208.5 L571.1,210.3 L572.2,212.1 L573.3,214.0 L574.3,215.8 L575.4,217.6 L576.4,219.5 L577.5,221.3 L578.5,223.2 L579.5,225.1 L580.6,227.0 L581.6,228.9 L582.6,230.8 L583.6,232.7 L584.6,234.6 L585.6,236.5 L586.5,238.4 L587.5,240.3 L588.5,242.3 L589.4,244.2 L590.4,246.1 L591.3,248.1 L592.3,250.0 L593.2,252.0 L594.2,254.0 L595.1,255.9 L596.0,257.9 L596.9,259.9 L597.9,261.9 L598.8,263.8 L599.7,265.8 L600.6,267.8 L601.5,269.8 L602.4,271.8 L603.3,273.8 L604.2,275.8 L605.1,277.8 L606.0,279.8 L606.9,281.9 L607.7,283.9 L608.6,285.9 L609.5,287.9 L610.4,289.9 L611.3,291.9 L612.1,294.0 L613.0,296.0 L613.9,298.0 L614.8,300.1 L615.6,302.1 L616.5,304.1 L617.4,306.1 L618.2,308.2 L619.1,310.2 L620.0,312.2 L620.8,314.3 L621.7,316.3 L622.6,318.3 L623.5,320.3 L624.3,322.4 L625.2,324.4 L626.1,326.4 L626.9,328.4 L627.8,330.5 L628.7,332.5 L629.6,334.5 L630.5,336.5 L631.3,338.5 L632.2,340.6 L633.1,342.6 L634.0,344.6 L634.9,346.6 L635.8,348.6 L636.7,350.6 L637.6,352.6 L638.5,354.6 L639.4,356.6 L640.3,358.6 L641.2,360.6 L642.1,362.5 L643.1,364.5 L644.0,366.5 L644.9,368.5 L645.8,370.5 L646.7,372.5 L647.6,374.4 L648.6,376.4 L649.5,378.4 L650.4,380.4 L651.3,382.3 L652.3,384.3 L653.2,386.3 L654.1,388.3 L655.0,390.2 L656.0,392.2 L656.9,394.2 L657.8,396.1 L658.8,398.1 L659.7,400.1 L660.6,402.0 L661.6,404.0 L662.5,406.0 L663.4,407.9 L664.4,409.9 L665.3,411.9 L666.3,413.8 L667.2,415.8 L668.1,417.7 L669.1,419.7 L670.0,421.7 L670.9,423.6 L671.9,425.6 L672.8,427.5 L673.7,429.5 L674.7,431.5 L675.6,433.4 L676.6,435.4 L677.5,437.4 L678.4,439.3 L679.4,441.3 L680.3,443.3 L681.2,445.2 L682.2,447.2 L683.1,449.2 L684.0,451.1 L685.0,453.1 L685.9,455.1 L686.8,457.0 L687.7,459.0 L688.7,461.0 L689.6,463.0 L690.5,464.9 L691.4,466.9 L692.4,468.9 L693.3,470.9 L694.2,472.8 L695.1,474.8 L696.1,476.8 L697.0,478.8 L697.9,480.7 L698.8,482.7 L699.8,484.7 L700.7,486.7 L701.6,488.6 L702.6,490.6 L703.5,492.5 L704.4,494.5 L705.4,496.5 L706.3,498.4 L707.3,500.4 L708.2,502.3 L709.2,504.2 L710.2,506.2 L711.1,508.1 L712.1,510.0 L713.1,512.0 L714.1,513.9 L715.0,515.8 L716.0,517.7 L717.0,519.6 L718.0,521.5 L719.1,523.4 L720.1,525.2 L721.1,527.1 L722.2,529.0 L723.2,530.8 L724.2,532.7 L725.3,534.5 L726.4,536.4 L727.4,538.2 L728.5,540.0 L729.6,541.8 L730.7,543.6 L731.8,545.4 L733.0,547.2 L734.1,548.9 L735.2,550.7 L736.4,552.4 L737.5,554.2 L738.7,555.9 L739.9,557.6 L741.1,559.4 L742.2,561.1 L743.4,562.8 L744.7,564.5 L745.9,566.1 L747.1,567.8 L748.3,569.5 L749.6,571.2 L750.8,572.8 L752.1,574.5 L753.3,576.1 L754.6,577.7 L755.9,579.3 L757.1,581.0 L758.4,582.6 L759.7,584.2 L761.0,585.8 L762.3,587.4 L763.7,588.9 L765.0,590.5 L766.3,592.1 L767.7,593.6 L769.0,595.2 L770.4,596.7 L771.7,598.3 L773.1,599.8 L774.4,601.4 L775.8,602.9 L777.2,604.4 L778.6,605.9 L780.0,607.4 L781.4,608.9 L782.8,610.4 L784.2,611.9 L785.6,613.4 L787.0,614.9 L788.5,616.3 L789.9,617.8 L791.3,619.3 L792.8,620.7 L794.2,622.2 L795.7,623.6 L797.1,625.1 L798.6,626.5 L800.1,627.9 L801.5,629.3 L803.0,630.8 L804.5,632.2 L806.0,633.6 L807.4,635.0 L808.9,636.4 L810.4,637.9 L811.9,639.3 L813.4,640.7 L814.9,642.1 L816.4,643.5 L817.9,644.9 L819.4,646.3 L820.9,647.7 L822.4,649.1 L823.9,650.5 L825.4,651.9 L826.9,653.2 L828.4,654.6 L829.9,656.0 L831.5,657.4 L833.0,658.8 L834.5,660.2 L836.0,661.6 L837.5,663.0 L839.0,664.4 L840.5,665.8 L842.0,667.2 L843.5,668.6 L845.0,670.0 L846.5,671.4 L848.0,672.8 L849.5,674.2 L850.9,675.6 L852.4,677.0 L853.9,678.4 L855.4,679.9 L856.9,681.3 L858.3,682.7 L859.8,684.1 L861.3,685.6 L862.7,687.0 L864.2,688.5 L865.6,689.9 L867.1,691.4 L868.5,692.8 L870.0,694.3 L871.4,695.8 L872.8,697.2 L874.2,698.7 L875.7,700.2 L877.1,701.7 L878.5,703.2 L879.9,704.7 L881.3,706.2 L882.6,707.7 L884.0,709.2 L885.4,710.8 L886.8,712.3 L888.1,713.8 L889.5,715.4 L890.8,716.9 L892.2,718.5 L893.5,720.0 L894.9,721.6 L896.2,723.1 L897.6,724.7 L898.9,726.2 L900.2,727.8 L901.6,729.4 L902.9,731.0 L904.2,732.5 L905.5,734.1 L906.8,735.7 L908.2,737.3 L909.5,738.9 L910.8,740.4 L912.1,742.0 L913.4,743.6 L914.7,745.2 L916.0,746.8 L917.3,748.4 L918.7,750.0 L920.0,751.6 L921.3,753.2 L922.6,754.7 L923.9,756.3 L925.2,757.9 L926.5,759.5 L927.8,761.1 L929.1,762.7 L930.5,764.3 L931.8,765.8 L933.1,767.4 L934.4,769.0 L935.7,770.6 L937.1,772.1 L938.4,773.7 L939.7,775.3 L941.1,776.9 L942.4,778.4 L943.7,780.0 L945.1,781.5 L946.4,783.1 L947.8,784.6 L949.1,786.2 L950.5,787.7 L951.9,789.3 L953.2,790.8 L954.6,792.3 L956.0,793.8 L957.3,795.4 L958.7,796.9 L960.1,798.4 L961.5,799.9 L962.9,801.4 L964.3,802.9 L965.7,804.4 L967.1,805.9 L968.5,807.4 L969.9,808.9 L971.3,810.4 L972.7,811.9 L974.2,813.3 L975.6,814.8 L977.0,816.3 L978.5,817.7 L979.9,819.2 L981.4,820.6 L982.8,822.1 L984.2,823.5 L985.7,825.0 L987.2,826.4 L988.6,827.9 L990.1,829.3 L991.6,830.7 L993.1,832.1 L994.5,833.6 L996.0,835.0 L997.5,836.4 L999.0,837.8 L1000.5,839.2 L1002.0,840.6 L1003.5,842.0 L1005.0,843.4 L1006.6,844.7 L1008.1,846.1 L1009.6,847.5 L1011.1,848.9 L1012.7,850.2 L1014.2,851.6 L1015.8,852.9 L1017.3,854.3 L1018.9,855.6 L1020.4,857.0 L1022.0,858.3 L1023.6,859.6 L1025.1,860.9 L1026.7,862.3 L1028.3,863.6 L1029.9,864.9 L1031.5,866.2 L1033.1,867.5 L1034.7,868.8 L1036.3,870.1 L1037.9,871.4 L1039.5,872.7 L1041.1,873.9 L1042.8,875.2 L1044.4,876.5 L1046.0,877.8 L1047.6,879.0 L1049.3,880.3 L1050.9,881.6 L1052.6,882.8 L1054.2,884.1 L1055.9,885.3 L1057.5,886.5 L1059.2,887.8 L1060.8,889.0 L1062.5,890.3 L1064.2,891.5 L1065.8,892.7 L1067.5,893.9 L1069.2,895.2 L1070.9,896.4 L1072.5,897.6 L1074.2,898.8 L1075.9,900.0 L1077.6,901.2 L1079.3,902.5 L1081.0,903.7 L1082.7,904.9 L1084.4,906.1 L1086.1,907.3 L1087.8,908.5 L1089.5,909.7 L1091.2,910.9 L1092.9,912.0 L1094.6,913.2 L1096.3,914.4 L1098.0,915.6 L1099.7,916.8 L1101.5,918.0 L1103.2,919.2 L1104.9,920.4 L1106.6,921.5 L1108.3,922.7 L1110.0,923.9 L1111.8,925.1 L1113.5,926.3 L1115.2,927.4 L1116.9,928.6 L1118.6,929.8 L1120.4,931.0 L1122.1,932.1 L1123.8,933.3 L1125.5,934.5 L1127.3,935.7 L1129.0,936.9 L1130.7,938.0 L1132.4,939.2 L1134.2,940.4 L1135.9,941.6 L1137.6,942.7 L1139.3,943.9 L1141.0,945.1 L1142.8,946.3 L1144.5,947.4 L1146.2,948.6 L1148.0,949.8 L1149.7,950.9 L1151.4,952.1 L1153.2,953.2 L1154.9,954.4 L1156.7,955.5 L1158.4,956.7 L1160.2,957.8 L1162.0,959.0 L1163.7,960.1 L1165.5,961.2 L1167.3,962.3 L1169.1,963.5 L1170.9,964.6 L1172.7,965.7 L1174.5,966.7 L1176.3,967.8 L1178.1,968.9 L1179.9,970.0 L1181.8,971.0 L1183.6,972.1 L1185.5,973.1 L1187.4,974.1 L1189.3,975.1 L1191.2,976.2 L1193.1,977.2 L1195.0,978.1 L1196.9,979.1 L1198.8,980.1 L1200.8,981.0 L1202.8,981.9 L1204.7,982.9 L1206.7,983.8 L1208.7,984.7 L1210.8,985.5 L1212.8,986.4 L1214.9,987.2 L1216.9,988.1 L1219.0,988.9 L1221.1,989.7 L1223.2,990.5 L1235.2,995.3" fill="none" stroke="#0000ff" stroke-width="10.8" stroke-linejoin="round" stroke-linecap="butt" clip-path="url(#clip_a)"/>
<path d="M1341.0,148.1 L1353.0,148.6 L1355.7,148.6 L1358.5,148.7 L1361.3,148.8 L1364.0,148.9 L1366.7,149.0 L1369.4,149.2 L1372.1,149.4 L1374.7,149.6 L1377.3,149.8 L1379.9,150.1 L1382.5,150.3 L1385.1,150.6 L1387.6,150.9 L1390.2,151.3 L1392.6,151.6 L1395.1,152.0 L1397.6,152.4 L1400.0,152.8 L1402.4,153.3 L1404.8,153.7 L1407.2,154.2 L1409.5,154.7 L1411.8,155.3 L1414.1,155.8 L1416.4,156.4 L1418.6,157.0 L1420.9,157.6 L1423.1,158.3 L1425.2,158.9 L1427.4,159.6 L1429.5,160.4 L1431.7,161.1 L1433.7,161.8 L1435.8,162.6 L1437.9,163.4 L1439.9,164.2 L1441.9,165.1 L1443.9,165.9 L1445.9,166.8 L1447.8,167.7 L1449.8,168.6 L1451.7,169.5 L1453.6,170.5 L1455.5,171.5 L1457.4,172.4 L1459.2,173.4 L1461.1,174.5 L1462.9,175.5 L1464.7,176.5 L1466.5,177.6 L1468.3,178.7 L1470.0,179.8 L1471.8,180.9 L1473.5,182.0 L1475.2,183.1 L1476.9,184.3 L1478.6,185.4 L1480.3,186.6 L1482.0,187.7 L1483.6,188.9 L1485.3,190.1 L1486.9,191.4 L1488.5,192.6 L1490.1,193.8 L1491.7,195.1 L1493.3,196.4 L1494.8,197.7 L1496.4,199.0 L1497.9,200.4 L1499.4,201.7 L1500.8,203.1 L1502.3,204.5 L1503.7,206.0 L1505.1,207.4 L1506.5,208.9 L1507.8,210.4 L1509.1,211.9 L1510.4,213.5 L1511.7,215.1 L1512.9,216.7 L1514.1,218.3 L1515.3,220.0 L1516.5,221.7 L1517.6,223.4 L1518.7,225.2 L1519.7,227.0 L1520.8,228.8 L1521.8,230.6 L1522.8,232.5 L1523.7,234.4 L1524.7,236.3 L1525.6,238.2 L1526.5,240.1 L1527.4,242.1 L1528.3,244.1 L1529.2,246.0 L1530.1,248.0 L1530.9,250.0 L1531.8,252.0 L1532.6,254.0 L1533.5,256.0 L1534.3,258.1 L1535.1,260.1 L1535.9,262.1 L1536.8,264.1 L1537.6,266.1 L1538.4,268.2 L1539.3,270.2 L1540.1,272.2 L1540.9,274.2 L1541.7,276.3 L1542.6,278.3 L1543.4,280.3 L1544.2,282.3 L1545.1,284.4 L1545.9,286.4 L1546.7,288.4 L1547.5,290.4 L1548.4,292.5 L1549.2,294.5 L1550.0,296.5 L1550.8,298.5 L1551.7,300.6 L1552.5,302.6 L1553.3,304.6 L1554.1,306.7 L1555.0,308.7 L1555.8,310.7 L1556.6,312.7 L1557.4,314.8 L1558.2,316.8 L1559.0,318.9 L1559.9,320.9 L1560.7,322.9 L1561.5,325.0 L1562.3,327.0 L1563.1,329.0 L1563.9,331.1 L1564.7,333.1 L1565.5,335.2 L1566.3,337.2 L1567.1,339.3 L1567.9,341.3 L1568.7,343.4 L1569.6,345.4 L1570.3,347.5 L1571.1,349.5 L1571.9,351.6 L1572.7,353.6 L1573.5,355.7 L1574.3,357.7 L1575.1,359.8 L1575.9,361.9 L1576.7,363.9 L1577.5,366.0 L1578.3,368.0 L1579.1,370.1 L1579.8,372.2 L1580.6,374.3 L1581.4,376.3 L1582.2,378.4 L1582.9,380.5 L1583.7,382.6 L1584.5,384.6 L1585.3,386.7 L1586.0,388.8 L1586.8,390.9 L1587.6,393.0 L1588.3,395.1 L1589.1,397.2 L1589.8,399.3 L1590.6,401.3 L1591.4,403.4 L1592.1,405.5 L1592.8,407.6 L1593.6,409.8 L1594.3,411.9 L1595.1,414.0 L1595.8,416.1 L1596.6,418.2 L1597.3,420.3 L1598.0,422.4 L1598.8,424.5 L1599.5,426.7 L1600.2,428.8 L1600.9,430.9 L1601.7,433.0 L1602.4,435.2 L1603.1,437.3 L1603.8,439.4 L1604.5,441.6 L1605.3,443.7 L1606.0,445.8 L1606.7,448.0 L1607.4,450.1 L1608.1,452.2 L1608.9,454.4 L1609.6,456.5 L1610.3,458.6 L1611.0,460.8 L1611.7,462.9 L1612.5,465.0 L1613.2,467.1 L1613.9,469.3 L1614.7,471.4 L1615.4,473.5 L1616.1,475.6 L1616.8,477.7 L1617.6,479.9 L1618.3,482.0 L1619.1,484.1 L1619.8,486.2 L1620.6,488.3 L1621.3,490.4 L1622.1,492.5 L1622.8,494.6 L1623.6,496.7 L1624.4,498.7 L1625.1,500.8 L1625.9,502.9 L1626.7,505.0 L1627.5,507.0 L1628.3,509.1 L1629.1,511.1 L1629.9,513.2 L1630.7,515.2 L1631.5,517.3 L1632.3,519.3 L1633.2,521.3 L1634.0,523.3 L1634.8,525.4 L1635.7,527.4 L1636.5,529.4 L1637.4,531.4 L1638.2,533.3 L1639.1,535.3 L1640.0,537.3 L1640.9,539.2 L1641.8,541.2 L1642.7,543.1 L1643.6,545.1 L1644.5,547.0 L1645.5,548.9 L1646.4,550.8 L1647.4,552.7 L1648.3,554.6 L1649.3,556.5 L1650.3,558.4 L1651.2,560.3 L1652.2,562.1 L1653.2,564.0 L1654.2,565.8 L1655.3,567.6 L1656.3,569.5 L1657.3,571.3 L1658.4,573.1 L1659.5,574.9 L1660.5,576.6 L1661.6,578.4 L1662.7,580.2 L1663.8,581.9 L1664.9,583.7 L1666.0,585.4 L1667.2,587.1 L1668.3,588.8 L1669.5,590.5 L1670.6,592.2 L1671.8,593.9 L1673.0,595.5 L1674.2,597.2 L1675.4,598.8 L1676.6,600.5 L1677.9,602.1 L1679.1,603.7 L1680.4,605.3 L1681.6,606.9 L1682.9,608.4 L1684.2,610.0 L1685.5,611.5 L1686.8,613.1 L1688.1,614.6 L1689.5,616.1 L1690.8,617.6 L1692.2,619.1 L1693.6,620.6 L1695.0,622.0 L1696.4,623.5 L1697.8,624.9 L1699.2,626.3 L1700.7,627.7 L1702.1,629.1 L1703.6,630.5 L1705.1,631.9 L1706.6,633.3 L1708.1,634.6 L1709.6,636.0 L1711.1,637.3 L1712.6,638.6 L1714.1,639.9 L1715.7,641.2 L1717.2,642.5 L1718.8,643.8 L1720.4,645.1 L1722.0,646.4 L1723.5,647.6 L1725.1,648.9 L1726.7,650.2 L1728.3,651.4 L1729.9,652.6 L1731.6,653.9 L1733.2,655.1 L1734.8,656.3 L1736.5,657.5 L1738.1,658.7 L1739.8,659.9 L1741.4,661.1 L1743.0,662.4 L1744.7,663.5 L1746.4,664.7 L1748.0,665.9 L1749.7,667.1 L1751.4,668.3 L1753.1,669.5 L1754.7,670.6 L1756.4,671.8 L1758.1,673.0 L1759.8,674.1 L1761.4,675.3 L1763.1,676.5 L1764.8,677.6 L1766.5,678.8 L1768.2,680.0 L1769.9,681.2 L1771.6,682.3 L1773.2,683.5 L1774.9,684.7 L1776.6,685.8 L1778.3,687.0 L1780.0,688.2 L1781.6,689.4 L1783.3,690.5 L1785.0,691.7 L1786.6,692.9 L1788.3,694.1 L1790.0,695.3 L1791.6,696.5 L1793.3,697.7 L1794.9,698.9 L1796.6,700.1 L1798.2,701.3 L1799.8,702.5 L1801.4,703.8 L1803.1,705.0 L1804.7,706.2 L1806.3,707.5 L1807.9,708.7 L1809.5,709.9 L1811.1,711.2 L1812.7,712.4 L1814.3,713.7 L1815.9,715.0 L1817.5,716.2 L1819.1,717.5 L1820.7,718.8 L1822.2,720.0 L1823.8,721.3 L1825.4,722.6 L1827.0,723.9 L1828.5,725.1 L1830.1,726.4 L1831.7,727.7 L1833.2,729.0 L1834.8,730.3 L1836.4,731.6 L1837.9,732.9 L1839.5,734.2 L1841.0,735.4 L1842.6,736.7 L1844.2,738.0 L1845.7,739.3 L1847.3,740.6 L1848.8,741.9 L1850.4,743.2 L1851.9,744.5 L1853.5,745.8 L1855.1,747.1 L1856.6,748.4 L1858.2,749.7 L1859.7,751.0 L1861.3,752.2 L1862.9,753.5 L1864.4,754.8 L1866.0,756.1 L1867.6,757.4 L1869.1,758.7 L1870.7,760.0 L1872.3,761.2 L1873.9,762.5 L1875.4,763.8 L1877.0,765.0 L1878.6,766.3 L1880.2,767.6 L1881.8,768.8 L1883.4,770.1 L1885.0,771.3 L1886.6,772.6 L1888.2,773.8 L1889.8,775.1 L1891.4,776.3 L1893.1,777.5 L1894.7,778.8 L1896.3,780.0 L1897.9,781.2 L1899.6,782.4 L1901.2,783.6 L1902.9,784.8 L1904.5,786.0 L1906.2,787.2 L1907.8,788.4 L1909.5,789.6 L1911.1,790.8 L1912.8,792.0 L1914.5,793.2 L1916.1,794.4 L1917.8,795.5 L1919.5,796.7 L1921.2,797.9 L1922.8,799.1 L1924.5,800.2 L1926.2,801.4 L1927.9,802.6 L1929.6,803.8 L1931.2,804.9 L1932.9,806.1 L1934.6,807.3 L1936.3,808.5 L1937.9,809.6 L1939.6,810.8 L1941.3,812.0 L1943.0,813.2 L1944.6,814.4 L1946.3,815.5 L1947.9,816.7 L1949.6,817.9 L1951.3,819.1 L1952.9,820.3 L1954.6,821.5 L1956.2,822.7 L1957.9,823.9 L1959.5,825.1 L1961.1,826.3 L1962.8,827.6 L1964.4,828.8 L1966.1,830.0 L1967.7,831.2 L1969.3,832.4 L1971.0,833.6 L1972.6,834.9 L1974.2,836.1 L1975.8,837.3 L1977.5,838.5 L1979.1,839.8 L1980.7,841.0 L1982.4,842.2 L1984.0,843.4 L1985.6,844.6 L1987.3,845.9 L1988.9,847.1 L1990.5,848.3 L1992.2,849.5 L1993.8,850.7 L1995.5,851.9 L1997.1,853.1 L1998.7,854.3 L2000.4,855.5 L2002.1,856.7 L2003.7,857.9 L2005.4,859.1 L2007.1,860.3 L2008.7,861.5 L2010.4,862.6 L2012.1,863.8 L2013.8,865.0 L2015.5,866.1 L2017.2,867.3 L2018.9,868.4 L2020.6,869.6 L2022.3,870.7 L2024.0,871.8 L2025.7,873.0 L2027.4,874.1 L2029.2,875.2 L2030.9,876.3 L2032.7,877.4 L2034.4,878.5 L2036.2,879.6 L2037.9,880.7 L2039.7,881.8 L2041.5,882.9 L2043.3,883.9 L2045.1,885.0 L2046.9,886.0 L2048.7,887.1 L2050.5,888.1 L2052.3,889.2 L2054.1,890.2 L2056.0,891.2 L2057.8,892.2 L2059.7,893.2 L2061.5,894.2 L2063.4,895.2 L2065.3,896.1 L2067.2,897.1 L2069.1,898.1 L2071.0,899.0 L2072.9,899.9 L2074.8,900.9 L2076.8,901.8 L2078.7,902.7 L2080.7,903.6 L2082.6,904.5 L2084.6,905.4 L2086.6,906.2 L2088.6,907.1 L2090.6,907.9 L2092.6,908.8 L2094.6,909.6 L2096.6,910.4 L2098.7,911.2 L2100.7,912.0 L2102.8,912.8 L2104.8,913.6 L2106.9,914.4 L2109.0,915.1 L2111.1,915.9 L2113.2,916.6 L2115.3,917.4 L2117.4,918.1 L2119.6,918.8 L2121.7,919.5 L2123.9,920.2 L2126.0,920.9 L2128.2,921.6 L2130.4,922.3 L2132.6,923.0 L2134.7,923.6 L2136.9,924.3 L2139.2,924.9 L2141.4,925.6 L2143.6,926.2 L2145.8,926.8 L2148.1,927.4 L2150.3,928.0 L2152.6,928.6 L2154.8,929.2 L2157.1,929.8 L2159.4,930.3 L2161.7,930.9 L2164.0,931.5 L2166.3,932.0 L2168.6,932.6 L2170.9,933.1 L2173.2,933.6 L2175.6,934.1 L2177.9,934.7 L2180.2,935.2 L2182.6,935.7 L2184.9,936.2 L2187.3,936.7 L2189.7,937.2 L2192.0,937.6 L2194.4,938.1 L2196.8,938.6 L2199.1,939.1 L2201.5,939.6 L2203.9,940.0 L2206.3,940.5 L2208.6,941.0 L2211.0,941.5 L2213.4,941.9 L2215.8,942.4 L2218.2,942.9 L2220.6,943.3 L2222.9,943.8 L2225.3,944.3 L2227.7,944.7 L2230.1,945.2 L2232.5,945.7 L2234.9,946.1 L2237.2,946.6 L2239.6,947.1 L2242.0,947.6 L2244.4,948.0 L2246.7,948.5 L2249.1,949.0 L2251.4,949.5 L2253.8,950.0 L2256.1,950.5 L2258.5,951.0 L2270.5,953.6" fill="none" stroke="#000000" stroke-width="10.8" stroke-linejoin="round" stroke-linecap="butt" clip-path="url(#clip_b)"/>
<path d="M1341.1,147.3 L1353.1,148.4 L1355.7,148.6 L1358.3,148.8 L1360.9,149.0 L1363.5,149.2 L1366.1,149.5 L1368.6,149.7 L1371.2,150.0 L1373.7,150.3 L1376.3,150.5 L1378.8,150.8 L1381.4,151.1 L1383.9,151.4 L1386.4,151.7 L1388.9,151.9 L1391.4,152.2 L1394.0,152.5 L1396.5,152.8 L1399.0,153.1 L1401.5,153.4 L1404.1,153.7 L1406.6,154.0 L1409.1,154.3 L1411.6,154.5 L1414.2,154.8 L1416.7,155.1 L1419.3,155.3 L1421.8,155.6 L1424.4,155.9 L1426.9,156.1 L1429.5,156.4 L1432.1,156.6 L1434.6,156.9 L1437.2,157.1 L1439.7,157.4 L1442.3,157.7 L1444.8,158.0 L1447.3,158.3 L1449.8,158.6 L1452.3,158.9 L1454.7,159.3 L1457.1,159.7 L1459.5,160.1 L1461.9,160.5 L1464.3,160.9 L1466.6,161.4 L1468.9,162.0 L1471.1,162.5 L1473.4,163.1 L1475.5,163.8 L1477.7,164.4 L1479.8,165.1 L1481.8,165.9 L1483.8,166.7 L1485.8,167.6 L1487.7,168.5 L1489.6,169.4 L1491.4,170.4 L1493.2,171.4 L1494.9,172.5 L1496.7,173.6 L1498.3,174.7 L1500.0,175.9 L1501.6,177.1 L1503.1,178.4 L1504.6,179.7 L1506.1,181.0 L1507.6,182.3 L1509.0,183.7 L1510.4,185.1 L1511.8,186.6 L1513.1,188.1 L1514.4,189.6 L1515.7,191.1 L1516.9,192.7 L1518.1,194.3 L1519.3,195.9 L1520.5,197.6 L1521.6,199.2 L1522.7,200.9 L1523.8,202.6 L1524.9,204.4 L1526.0,206.1 L1527.0,207.9 L1528.0,209.7 L1529.0,211.5 L1530.0,213.4 L1530.9,215.2 L1531.9,217.1 L1532.8,219.0 L1533.7,220.9 L1534.6,222.8 L1535.5,224.8 L1536.3,226.7 L1537.2,228.7 L1538.0,230.6 L1538.9,232.6 L1539.7,234.6 L1540.5,236.6 L1541.3,238.6 L1542.1,240.6 L1542.9,242.6 L1543.7,244.6 L1544.5,246.7 L1545.3,248.7 L1546.1,250.7 L1546.9,252.7 L1547.6,254.8 L1548.4,256.8 L1549.2,258.8 L1550.0,260.9 L1550.8,262.9 L1551.5,264.9 L1552.3,267.0 L1553.1,269.0 L1553.9,271.0 L1554.7,273.0 L1555.5,275.0 L1556.3,277.1 L1557.1,279.1 L1557.9,281.1 L1558.7,283.1 L1559.5,285.1 L1560.2,287.2 L1561.0,289.2 L1561.8,291.2 L1562.6,293.2 L1563.4,295.2 L1564.2,297.2 L1565.0,299.3 L1565.8,301.3 L1566.6,303.3 L1567.4,305.3 L1568.2,307.3 L1569.0,309.4 L1569.8,311.4 L1570.6,313.4 L1571.4,315.4 L1572.1,317.4 L1572.9,319.5 L1573.7,321.5 L1574.5,323.5 L1575.3,325.6 L1576.1,327.6 L1576.8,329.6 L1577.6,331.7 L1578.4,333.7 L1579.1,335.7 L1579.9,337.8 L1580.7,339.8 L1581.4,341.9 L1582.2,343.9 L1583.0,346.0 L1583.7,348.0 L1584.5,350.1 L1585.2,352.1 L1586.0,354.2 L1586.7,356.3 L1587.5,358.3 L1588.2,360.4 L1589.0,362.5 L1589.7,364.5 L1590.5,366.6 L1591.2,368.7 L1591.9,370.8 L1592.7,372.8 L1593.4,374.9 L1594.1,377.0 L1594.9,379.1 L1595.6,381.2 L1596.3,383.2 L1597.1,385.3 L1597.8,387.4 L1598.5,389.5 L1599.2,391.6 L1600.0,393.7 L1600.7,395.8 L1601.4,397.9 L1602.1,399.9 L1602.8,402.0 L1603.6,404.1 L1604.3,406.2 L1605.0,408.3 L1605.7,410.4 L1606.5,412.5 L1607.2,414.6 L1607.9,416.7 L1608.6,418.8 L1609.3,420.8 L1610.1,422.9 L1610.8,425.0 L1611.5,427.1 L1612.2,429.2 L1613.0,431.3 L1613.7,433.4 L1614.4,435.5 L1615.1,437.6 L1615.9,439.6 L1616.6,441.7 L1617.3,443.8 L1618.1,445.9 L1618.8,448.0 L1619.5,450.0 L1620.3,452.1 L1621.0,454.2 L1621.8,456.2 L1622.5,458.3 L1623.3,460.4 L1624.0,462.4 L1624.8,464.5 L1625.5,466.5 L1626.3,468.6 L1627.1,470.6 L1627.8,472.7 L1628.6,474.7 L1629.4,476.7 L1630.2,478.8 L1631.0,480.8 L1631.8,482.8 L1632.5,484.8 L1633.4,486.8 L1634.2,488.8 L1635.0,490.8 L1635.8,492.8 L1636.6,494.8 L1637.4,496.8 L1638.3,498.8 L1639.1,500.8 L1639.9,502.8 L1640.8,504.7 L1641.6,506.7 L1642.5,508.6 L1643.4,510.6 L1644.2,512.5 L1645.1,514.4 L1646.0,516.4 L1646.9,518.3 L1647.8,520.2 L1648.7,522.1 L1649.6,524.0 L1650.5,525.9 L1651.5,527.8 L1652.4,529.7 L1653.3,531.5 L1654.3,533.4 L1655.2,535.2 L1656.2,537.1 L1657.2,538.9 L1658.2,540.7 L1659.2,542.6 L1660.2,544.4 L1661.2,546.2 L1662.2,548.0 L1663.2,549.7 L1664.3,551.5 L1665.3,553.3 L1666.4,555.0 L1667.4,556.8 L1668.5,558.5 L1669.6,560.3 L1670.7,562.0 L1671.8,563.7 L1672.9,565.4 L1674.0,567.1 L1675.1,568.8 L1676.3,570.5 L1677.4,572.1 L1678.6,573.8 L1679.7,575.4 L1680.9,577.1 L1682.1,578.7 L1683.3,580.3 L1684.4,582.0 L1685.7,583.6 L1686.9,585.2 L1688.1,586.8 L1689.3,588.3 L1690.6,589.9 L1691.8,591.5 L1693.1,593.0 L1694.4,594.6 L1695.6,596.1 L1696.9,597.6 L1698.2,599.1 L1699.5,600.6 L1700.8,602.1 L1702.1,603.6 L1703.5,605.1 L1704.8,606.6 L1706.2,608.0 L1707.5,609.5 L1708.9,610.9 L1710.3,612.4 L1711.7,613.8 L1713.1,615.2 L1714.5,616.6 L1715.9,618.0 L1717.3,619.4 L1718.8,620.8 L1720.2,622.1 L1721.7,623.5 L1723.1,624.9 L1724.6,626.2 L1726.1,627.5 L1727.6,628.9 L1729.0,630.2 L1730.6,631.5 L1732.1,632.8 L1733.6,634.1 L1735.1,635.4 L1736.6,636.7 L1738.2,637.9 L1739.7,639.2 L1741.2,640.5 L1742.8,641.7 L1744.4,643.0 L1745.9,644.2 L1747.5,645.5 L1749.1,646.7 L1750.6,648.0 L1752.2,649.2 L1753.8,650.4 L1755.4,651.6 L1757.0,652.9 L1758.6,654.1 L1760.2,655.3 L1761.8,656.5 L1763.4,657.7 L1764.9,658.9 L1766.6,660.2 L1768.2,661.4 L1769.8,662.6 L1771.4,663.8 L1773.0,665.0 L1774.6,666.2 L1776.2,667.4 L1777.8,668.6 L1779.4,669.8 L1781.0,671.0 L1782.6,672.2 L1784.2,673.5 L1785.8,674.7 L1787.4,675.9 L1789.0,677.1 L1790.6,678.3 L1792.2,679.5 L1793.8,680.8 L1795.3,682.0 L1796.9,683.2 L1798.5,684.5 L1800.1,685.7 L1801.6,686.9 L1803.2,688.2 L1804.8,689.4 L1806.3,690.7 L1807.9,692.0 L1809.4,693.2 L1811.0,694.5 L1812.5,695.8 L1814.0,697.1 L1815.5,698.4 L1817.0,699.7 L1818.6,701.0 L1820.1,702.3 L1821.5,703.6 L1823.0,704.9 L1824.5,706.2 L1826.0,707.6 L1827.5,708.9 L1828.9,710.3 L1830.4,711.6 L1831.9,713.0 L1833.3,714.3 L1834.8,715.7 L1836.2,717.0 L1837.7,718.4 L1839.2,719.7 L1840.6,721.1 L1842.1,722.4 L1843.6,723.8 L1845.0,725.1 L1846.5,726.4 L1848.0,727.8 L1849.4,729.1 L1850.9,730.5 L1852.4,731.8 L1853.9,733.1 L1855.4,734.4 L1856.9,735.7 L1858.4,737.0 L1860.0,738.3 L1861.5,739.6 L1863.0,740.9 L1864.6,742.1 L1866.1,743.4 L1867.7,744.6 L1869.3,745.9 L1870.8,747.1 L1872.4,748.3 L1874.0,749.5 L1875.6,750.8 L1877.2,752.0 L1878.8,753.2 L1880.5,754.3 L1882.1,755.5 L1883.7,756.7 L1885.4,757.9 L1887.0,759.1 L1888.6,760.2 L1890.3,761.4 L1892.0,762.5 L1893.6,763.7 L1895.3,764.9 L1896.9,766.0 L1898.6,767.1 L1900.3,768.3 L1901.9,769.4 L1903.6,770.6 L1905.3,771.7 L1907.0,772.8 L1908.6,774.0 L1910.3,775.1 L1912.0,776.3 L1913.7,777.4 L1915.3,778.5 L1917.0,779.7 L1918.7,780.8 L1920.4,781.9 L1922.0,783.1 L1923.7,784.2 L1925.4,785.3 L1927.1,786.5 L1928.7,787.6 L1930.4,788.8 L1932.1,789.9 L1933.7,791.1 L1935.4,792.2 L1937.1,793.3 L1938.7,794.5 L1940.4,795.6 L1942.1,796.8 L1943.7,797.9 L1945.4,799.1 L1947.1,800.2 L1948.7,801.4 L1950.4,802.5 L1952.1,803.7 L1953.7,804.8 L1955.4,806.0 L1957.0,807.1 L1958.7,808.3 L1960.4,809.4 L1962.0,810.6 L1963.7,811.7 L1965.3,812.9 L1967.0,814.0 L1968.7,815.2 L1970.3,816.3 L1972.0,817.5 L1973.6,818.6 L1975.3,819.8 L1977.0,821.0 L1978.6,822.1 L1980.3,823.3 L1981.9,824.4 L1983.6,825.6 L1985.3,826.7 L1986.9,827.9 L1988.6,829.0 L1990.3,830.2 L1991.9,831.3 L1993.6,832.5 L1995.2,833.6 L1996.9,834.8 L1998.6,835.9 L2000.2,837.1 L2001.9,838.2 L2003.6,839.4 L2005.2,840.5 L2006.9,841.7 L2008.5,842.8 L2010.2,843.9 L2011.9,845.1 L2013.6,846.2 L2015.2,847.4 L2016.9,848.5 L2018.6,849.6 L2020.3,850.7 L2022.0,851.9 L2023.7,853.0 L2025.4,854.1 L2027.1,855.2 L2028.8,856.3 L2030.5,857.4 L2032.2,858.5 L2033.9,859.6 L2035.7,860.7 L2037.4,861.8 L2039.1,862.8 L2040.9,863.9 L2042.6,865.0 L2044.4,866.0 L2046.2,867.1 L2047.9,868.1 L2049.7,869.1 L2051.5,870.1 L2053.3,871.2 L2055.1,872.2 L2056.9,873.2 L2058.8,874.1 L2060.6,875.1 L2062.4,876.1 L2064.3,877.0 L2066.2,878.0 L2068.0,878.9 L2069.9,879.9 L2071.8,880.8 L2073.7,881.7 L2075.6,882.6 L2077.6,883.4 L2079.5,884.3 L2081.5,885.2 L2083.5,886.0 L2085.4,886.8 L2087.4,887.7 L2089.4,888.5 L2091.5,889.3 L2093.5,890.0 L2095.5,890.8 L2097.6,891.6 L2099.6,892.3 L2101.7,893.1 L2103.8,893.8 L2105.9,894.5 L2108.0,895.2 L2110.1,895.9 L2112.2,896.6 L2114.3,897.3 L2116.5,898.0 L2118.6,898.6 L2120.8,899.3 L2123.0,899.9 L2125.1,900.6 L2127.3,901.2 L2129.5,901.8 L2131.7,902.4 L2133.9,903.0 L2136.1,903.6 L2138.3,904.2 L2140.6,904.8 L2142.8,905.4 L2145.1,906.0 L2147.3,906.5 L2149.6,907.1 L2151.8,907.6 L2154.1,908.2 L2156.4,908.7 L2158.6,909.3 L2160.9,909.8 L2163.2,910.3 L2165.5,910.8 L2167.8,911.3 L2170.1,911.8 L2172.4,912.3 L2174.7,912.8 L2177.0,913.3 L2179.4,913.8 L2181.7,914.3 L2184.0,914.8 L2186.4,915.3 L2188.7,915.7 L2191.1,916.2 L2193.4,916.7 L2195.8,917.1 L2198.1,917.6 L2200.5,918.0 L2202.9,918.4 L2205.2,918.9 L2207.6,919.3 L2210.0,919.7 L2212.4,920.2 L2214.8,920.6 L2217.2,921.0 L2219.6,921.4 L2222.0,921.8 L2224.4,922.2 L2226.8,922.6 L2229.2,923.0 L2231.6,923.4 L2234.1,923.8 L2236.5,924.2 L2238.9,924.6 L2241.4,925.0 L2243.8,925.3 L2246.2,925.7 L2248.7,926.1 L2251.1,926.4 L2253.6,926.8 L2256.0,927.2 L2258.5,927.5 L2270.5,929.3" fill="none" stroke="#ff0000" stroke-width="10.8" stroke-linejoin="round" stroke-linecap="butt" clip-path="url(#clip_b)"/>
<path d="M1341.1,146.2 L1353.1,147.2 L1355.7,147.3 L1358.3,147.5 L1360.9,147.7 L1363.5,147.9 L1366.0,148.1 L1368.6,148.4 L1371.1,148.6 L1373.6,148.9 L1376.1,149.1 L1378.6,149.4 L1381.1,149.7 L1383.6,150.0 L1386.1,150.3 L1388.5,150.5 L1391.0,150.8 L1393.5,151.2 L1395.9,151.5 L1398.4,151.8 L1400.9,152.1 L1403.3,152.4 L1405.8,152.7 L1408.2,153.0 L1410.7,153.3 L1413.2,153.6 L1415.6,153.9 L1418.1,154.2 L1420.6,154.5 L1423.1,154.8 L1425.5,155.1 L1428.0,155.4 L1430.5,155.7 L1433.0,156.0 L1435.5,156.3 L1438.0,156.5 L1440.5,156.8 L1442.9,157.1 L1445.4,157.4 L1447.9,157.7 L1450.3,158.0 L1452.8,158.4 L1455.2,158.7 L1457.7,159.0 L1460.1,159.4 L1462.5,159.7 L1464.9,160.1 L1467.3,160.5 L1469.7,160.9 L1472.0,161.3 L1474.4,161.7 L1476.7,162.1 L1479.0,162.6 L1481.3,163.1 L1483.6,163.6 L1485.8,164.1 L1488.0,164.7 L1490.2,165.2 L1492.4,165.8 L1494.6,166.4 L1496.7,167.1 L1498.8,167.7 L1500.9,168.4 L1503.0,169.1 L1505.0,169.9 L1507.0,170.6 L1509.0,171.4 L1510.9,172.2 L1512.9,173.1 L1514.8,174.0 L1516.6,174.9 L1518.5,175.8 L1520.3,176.8 L1522.1,177.8 L1523.8,178.8 L1525.5,179.8 L1527.2,180.9 L1528.8,182.1 L1530.5,183.2 L1532.0,184.4 L1533.6,185.6 L1535.1,186.9 L1536.6,188.2 L1538.0,189.5 L1539.4,190.9 L1540.8,192.3 L1542.1,193.7 L1543.4,195.2 L1544.7,196.7 L1545.9,198.2 L1547.1,199.8 L1548.3,201.4 L1549.5,203.0 L1550.6,204.6 L1551.7,206.3 L1552.8,207.9 L1553.9,209.6 L1555.0,211.3 L1556.0,213.1 L1557.0,214.8 L1558.0,216.6 L1559.1,218.3 L1560.1,220.1 L1561.0,221.9 L1562.0,223.7 L1563.0,225.5 L1564.0,227.3 L1564.9,229.1 L1565.9,230.9 L1566.8,232.8 L1567.7,234.6 L1568.7,236.4 L1569.6,238.3 L1570.5,240.2 L1571.4,242.0 L1572.3,243.9 L1573.2,245.8 L1574.1,247.7 L1574.9,249.6 L1575.8,251.4 L1576.7,253.4 L1577.6,255.3 L1578.4,257.2 L1579.3,259.1 L1580.1,261.0 L1580.9,263.0 L1581.8,264.9 L1582.6,266.8 L1583.4,268.8 L1584.2,270.7 L1585.1,272.7 L1585.9,274.7 L1586.7,276.6 L1587.5,278.6 L1588.3,280.6 L1589.1,282.5 L1589.8,284.5 L1590.6,286.5 L1591.4,288.5 L1592.2,290.5 L1593.0,292.5 L1593.7,294.5 L1594.5,296.5 L1595.3,298.5 L1596.0,300.5 L1596.8,302.5 L1597.5,304.6 L1598.3,306.6 L1599.0,308.6 L1599.8,310.6 L1600.5,312.7 L1601.2,314.7 L1602.0,316.7 L1602.7,318.8 L1603.4,320.8 L1604.2,322.9 L1604.9,324.9 L1605.6,327.0 L1606.3,329.0 L1607.0,331.1 L1607.7,333.1 L1608.4,335.2 L1609.1,337.3 L1609.8,339.3 L1610.5,341.4 L1611.2,343.5 L1611.9,345.6 L1612.6,347.7 L1613.3,349.8 L1613.9,351.9 L1614.6,354.0 L1615.3,356.1 L1615.9,358.2 L1616.6,360.3 L1617.2,362.4 L1617.9,364.6 L1618.5,366.7 L1619.2,368.8 L1619.8,371.0 L1620.4,373.1 L1621.0,375.3 L1621.7,377.4 L1622.3,379.6 L1622.9,381.7 L1623.5,383.9 L1624.1,386.1 L1624.7,388.2 L1625.3,390.4 L1625.9,392.6 L1626.5,394.8 L1627.1,396.9 L1627.7,399.1 L1628.2,401.3 L1628.8,403.5 L1629.4,405.7 L1630.0,407.9 L1630.6,410.1 L1631.2,412.2 L1631.8,414.4 L1632.3,416.6 L1632.9,418.8 L1633.5,421.0 L1634.1,423.1 L1634.7,425.3 L1635.4,427.5 L1636.0,429.6 L1636.6,431.8 L1637.2,433.9 L1637.8,436.1 L1638.5,438.2 L1639.1,440.3 L1639.8,442.4 L1640.4,444.5 L1641.1,446.6 L1641.8,448.7 L1642.4,450.8 L1643.1,452.9 L1643.8,455.0 L1644.6,457.0 L1645.3,459.1 L1646.0,461.1 L1646.8,463.1 L1647.5,465.1 L1648.3,467.1 L1649.1,469.1 L1649.9,471.1 L1650.7,473.1 L1651.5,475.0 L1652.3,477.0 L1653.2,478.9 L1654.0,480.8 L1654.9,482.7 L1655.8,484.6 L1656.7,486.5 L1657.6,488.3 L1658.5,490.2 L1659.4,492.0 L1660.4,493.9 L1661.3,495.7 L1662.3,497.5 L1663.3,499.3 L1664.2,501.1 L1665.2,502.9 L1666.3,504.6 L1667.3,506.4 L1668.3,508.1 L1669.4,509.8 L1670.4,511.5 L1671.5,513.2 L1672.6,514.9 L1673.7,516.6 L1674.8,518.2 L1676.0,519.9 L1677.1,521.5 L1678.2,523.1 L1679.4,524.7 L1680.6,526.3 L1681.8,527.9 L1683.0,529.4 L1684.2,531.0 L1685.4,532.5 L1686.7,534.1 L1687.9,535.6 L1689.2,537.1 L1690.5,538.6 L1691.8,540.0 L1693.1,541.5 L1694.4,543.0 L1695.8,544.4 L1697.1,545.8 L1698.5,547.2 L1699.8,548.6 L1701.2,550.0 L1702.6,551.4 L1704.0,552.7 L1705.4,554.1 L1706.9,555.4 L1708.3,556.8 L1709.8,558.1 L1711.2,559.4 L1712.7,560.7 L1714.2,562.0 L1715.6,563.3 L1717.1,564.6 L1718.6,565.8 L1720.1,567.1 L1721.7,568.4 L1723.2,569.6 L1724.7,570.8 L1726.3,572.1 L1727.8,573.3 L1729.3,574.5 L1730.9,575.7 L1732.5,577.0 L1734.0,578.2 L1735.6,579.4 L1737.2,580.6 L1738.7,581.8 L1740.3,582.9 L1741.9,584.1 L1743.5,585.3 L1745.1,586.5 L1746.7,587.7 L1748.3,588.8 L1749.9,590.0 L1751.5,591.2 L1753.1,592.3 L1754.7,593.5 L1756.3,594.7 L1757.9,595.8 L1759.5,597.0 L1761.1,598.2 L1762.7,599.3 L1764.3,600.5 L1766.0,601.7 L1767.6,602.8 L1769.2,604.0 L1770.8,605.2 L1772.4,606.3 L1774.0,607.5 L1775.6,608.7 L1777.1,609.9 L1778.7,611.0 L1780.3,612.2 L1781.9,613.4 L1783.5,614.6 L1785.1,615.8 L1786.6,617.0 L1788.2,618.2 L1789.7,619.4 L1791.3,620.6 L1792.8,621.9 L1794.4,623.1 L1795.9,624.3 L1797.5,625.6 L1799.0,626.8 L1800.5,628.1 L1802.0,629.3 L1803.5,630.6 L1805.1,631.8 L1806.6,633.1 L1808.1,634.4 L1809.6,635.6 L1811.1,636.9 L1812.5,638.2 L1814.0,639.5 L1815.5,640.7 L1817.0,642.0 L1818.5,643.3 L1820.0,644.6 L1821.5,645.9 L1822.9,647.2 L1824.4,648.5 L1825.9,649.8 L1827.4,651.1 L1828.8,652.4 L1830.3,653.7 L1831.8,655.0 L1833.3,656.3 L1834.7,657.6 L1836.2,658.9 L1837.7,660.2 L1839.2,661.4 L1840.6,662.7 L1842.1,664.0 L1843.6,665.3 L1845.1,666.6 L1846.6,667.9 L1848.0,669.2 L1849.5,670.5 L1851.0,671.8 L1852.5,673.0 L1854.0,674.3 L1855.5,675.6 L1857.0,676.9 L1858.5,678.1 L1860.0,679.4 L1861.5,680.6 L1863.0,681.9 L1864.6,683.2 L1866.1,684.4 L1867.6,685.6 L1869.2,686.9 L1870.7,688.1 L1872.2,689.3 L1873.8,690.6 L1875.3,691.8 L1876.9,693.0 L1878.5,694.2 L1880.1,695.4 L1881.6,696.6 L1883.2,697.8 L1884.8,698.9 L1886.4,700.1 L1888.0,701.3 L1889.6,702.4 L1891.3,703.6 L1892.9,704.7 L1894.5,705.8 L1896.2,707.0 L1897.8,708.1 L1899.5,709.2 L1901.1,710.3 L1902.8,711.5 L1904.4,712.6 L1906.1,713.7 L1907.8,714.8 L1909.4,715.9 L1911.1,717.0 L1912.8,718.1 L1914.4,719.2 L1916.1,720.3 L1917.8,721.4 L1919.5,722.5 L1921.1,723.6 L1922.8,724.6 L1924.5,725.7 L1926.2,726.8 L1927.8,727.9 L1929.5,729.0 L1931.2,730.2 L1932.8,731.3 L1934.5,732.4 L1936.2,733.5 L1937.8,734.6 L1939.5,735.7 L1941.1,736.8 L1942.7,738.0 L1944.4,739.1 L1946.0,740.3 L1947.6,741.4 L1949.2,742.6 L1950.9,743.7 L1952.5,744.9 L1954.1,746.1 L1955.7,747.2 L1957.2,748.4 L1958.8,749.6 L1960.4,750.8 L1962.0,752.0 L1963.5,753.2 L1965.1,754.4 L1966.7,755.6 L1968.2,756.8 L1969.8,758.1 L1971.3,759.3 L1972.8,760.5 L1974.4,761.8 L1975.9,763.0 L1977.4,764.2 L1979.0,765.5 L1980.5,766.7 L1982.0,768.0 L1983.5,769.3 L1985.0,770.5 L1986.5,771.8 L1988.0,773.1 L1989.5,774.3 L1991.0,775.6 L1992.5,776.9 L1994.0,778.2 L1995.5,779.4 L1997.0,780.7 L1998.5,782.0 L2000.0,783.3 L2001.4,784.6 L2002.9,785.9 L2004.4,787.2 L2005.9,788.5 L2007.3,789.8 L2008.8,791.0 L2010.3,792.3 L2011.8,793.6 L2013.3,794.9 L2014.8,796.2 L2016.2,797.5 L2017.7,798.8 L2019.2,800.0 L2020.7,801.3 L2022.2,802.6 L2023.7,803.8 L2025.3,805.1 L2026.8,806.3 L2028.3,807.6 L2029.8,808.8 L2031.4,810.1 L2032.9,811.3 L2034.5,812.5 L2036.1,813.7 L2037.6,814.9 L2039.2,816.1 L2040.8,817.3 L2042.4,818.4 L2044.0,819.6 L2045.6,820.7 L2047.3,821.9 L2048.9,823.0 L2050.6,824.1 L2052.2,825.3 L2053.9,826.4 L2055.6,827.4 L2057.2,828.5 L2058.9,829.6 L2060.6,830.7 L2062.4,831.7 L2064.1,832.8 L2065.8,833.8 L2067.5,834.9 L2069.3,835.9 L2071.1,836.9 L2072.8,837.9 L2074.6,838.9 L2076.4,839.9 L2078.2,840.9 L2080.0,841.8 L2081.8,842.8 L2083.6,843.8 L2085.4,844.7 L2087.2,845.6 L2089.1,846.6 L2090.9,847.5 L2092.8,848.4 L2094.6,849.3 L2096.5,850.2 L2098.4,851.1 L2100.3,852.0 L2102.2,852.9 L2104.1,853.7 L2106.0,854.6 L2107.9,855.5 L2109.8,856.3 L2111.7,857.2 L2113.7,858.0 L2115.6,858.8 L2117.6,859.6 L2119.5,860.5 L2121.5,861.3 L2123.5,862.1 L2125.5,862.9 L2127.4,863.6 L2129.4,864.4 L2131.4,865.2 L2133.4,866.0 L2135.4,866.7 L2137.5,867.5 L2139.5,868.2 L2141.5,869.0 L2143.5,869.7 L2145.6,870.4 L2147.6,871.1 L2149.7,871.9 L2151.8,872.6 L2153.8,873.3 L2155.9,874.0 L2158.0,874.7 L2160.0,875.4 L2162.1,876.0 L2164.2,876.7 L2166.3,877.4 L2168.4,878.1 L2170.5,878.7 L2172.7,879.4 L2174.8,880.0 L2176.9,880.7 L2179.0,881.3 L2181.2,881.9 L2183.3,882.6 L2185.5,883.2 L2187.6,883.8 L2189.8,884.4 L2191.9,885.0 L2194.1,885.7 L2196.3,886.3 L2198.4,886.9 L2200.6,887.4 L2202.8,888.0 L2205.0,888.6 L2207.2,889.2 L2209.4,889.8 L2211.6,890.4 L2213.8,890.9 L2216.0,891.5 L2218.2,892.0 L2220.4,892.6 L2222.6,893.2 L2224.8,893.7 L2227.1,894.2 L2229.3,894.8 L2231.5,895.3 L2233.8,895.9 L2236.0,896.4 L2238.2,896.9 L2240.5,897.4 L2242.7,898.0 L2245.0,898.5 L2247.3,899.0 L2249.5,899.5 L2251.8,900.0 L2254.0,900.5 L2256.3,901.0 L2258.6,901.5 L2270.6,904.2" fill="none" stroke="#00ff00" stroke-width="10.8" stroke-linejoin="round" stroke-linecap="butt" clip-path="url(#clip_b)"/>
<path d="M1341.1,145.1 L1353.1,145.9 L1355.6,146.1 L1358.1,146.2 L1360.6,146.4 L1363.2,146.6 L1365.7,146.7 L1368.2,146.9 L1370.7,147.1 L1373.2,147.2 L1375.7,147.4 L1378.2,147.6 L1380.7,147.7 L1383.3,147.9 L1385.8,148.1 L1388.3,148.3 L1390.8,148.5 L1393.3,148.6 L1395.8,148.8 L1398.3,149.0 L1400.7,149.2 L1403.2,149.4 L1405.7,149.6 L1408.2,149.8 L1410.6,150.0 L1413.1,150.3 L1415.5,150.5 L1418.0,150.7 L1420.4,151.0 L1422.9,151.2 L1425.3,151.4 L1427.7,151.7 L1430.2,152.0 L1432.6,152.2 L1435.0,152.5 L1437.3,152.8 L1439.7,153.1 L1442.1,153.4 L1444.5,153.7 L1446.8,154.1 L1449.2,154.4 L1451.5,154.7 L1453.8,155.1 L1456.2,155.5 L1458.5,155.8 L1460.8,156.2 L1463.0,156.6 L1465.3,157.0 L1467.6,157.5 L1469.8,157.9 L1472.0,158.4 L1474.3,158.8 L1476.5,159.3 L1478.7,159.8 L1480.8,160.3 L1483.0,160.8 L1485.2,161.3 L1487.3,161.9 L1489.4,162.4 L1491.5,163.0 L1493.6,163.6 L1495.7,164.2 L1497.8,164.8 L1499.8,165.4 L1501.8,166.1 L1503.8,166.8 L1505.8,167.5 L1507.8,168.2 L1509.8,168.9 L1511.7,169.6 L1513.6,170.4 L1515.5,171.2 L1517.4,171.9 L1519.3,172.8 L1521.1,173.6 L1523.0,174.5 L1524.8,175.3 L1526.6,176.2 L1528.3,177.1 L1530.1,178.1 L1531.8,179.0 L1533.5,180.0 L1535.2,181.0 L1536.8,182.0 L1538.5,183.1 L1540.1,184.1 L1541.7,185.2 L1543.2,186.3 L1544.8,187.5 L1546.3,188.6 L1547.8,189.8 L1549.3,191.0 L1550.7,192.3 L1552.2,193.5 L1553.6,194.8 L1554.9,196.1 L1556.3,197.4 L1557.6,198.8 L1558.9,200.1 L1560.2,201.5 L1561.5,202.9 L1562.7,204.4 L1564.0,205.8 L1565.2,207.3 L1566.4,208.8 L1567.5,210.3 L1568.7,211.8 L1569.8,213.4 L1570.9,215.0 L1572.0,216.5 L1573.1,218.1 L1574.2,219.8 L1575.2,221.4 L1576.3,223.1 L1577.3,224.7 L1578.3,226.4 L1579.2,228.1 L1580.2,229.8 L1581.2,231.5 L1582.1,233.3 L1583.0,235.0 L1584.0,236.8 L1584.9,238.6 L1585.7,240.4 L1586.6,242.2 L1587.5,244.0 L1588.3,245.8 L1589.2,247.7 L1590.0,249.5 L1590.8,251.4 L1591.7,253.2 L1592.5,255.1 L1593.3,257.0 L1594.0,258.9 L1594.8,260.8 L1595.6,262.7 L1596.3,264.6 L1597.1,266.5 L1597.8,268.5 L1598.6,270.4 L1599.3,272.4 L1600.1,274.3 L1600.8,276.3 L1601.5,278.3 L1602.2,280.2 L1602.9,282.2 L1603.6,284.2 L1604.3,286.2 L1605.0,288.2 L1605.7,290.2 L1606.3,292.2 L1607.0,294.2 L1607.7,296.2 L1608.3,298.2 L1609.0,300.2 L1609.7,302.3 L1610.3,304.3 L1611.0,306.3 L1611.6,308.4 L1612.3,310.4 L1612.9,312.4 L1613.5,314.5 L1614.2,316.5 L1614.8,318.6 L1615.4,320.6 L1616.1,322.7 L1616.7,324.7 L1617.3,326.8 L1618.0,328.8 L1618.6,330.9 L1619.2,332.9 L1619.8,335.0 L1620.5,337.0 L1621.1,339.1 L1621.7,341.1 L1622.3,343.2 L1623.0,345.3 L1623.6,347.3 L1624.2,349.4 L1624.9,351.4 L1625.5,353.5 L1626.1,355.5 L1626.8,357.6 L1627.4,359.6 L1628.0,361.6 L1628.7,363.7 L1629.3,365.7 L1630.0,367.7 L1630.6,369.8 L1631.3,371.8 L1631.9,373.8 L1632.6,375.8 L1633.3,377.8 L1634.0,379.9 L1634.6,381.9 L1635.3,383.9 L1636.0,385.9 L1636.7,387.8 L1637.4,389.8 L1638.1,391.8 L1638.8,393.8 L1639.5,395.7 L1640.2,397.7 L1641.0,399.7 L1641.7,401.6 L1642.4,403.6 L1643.2,405.5 L1643.9,407.4 L1644.7,409.3 L1645.5,411.2 L1646.2,413.2 L1647.0,415.0 L1647.8,416.9 L1648.6,418.8 L1649.4,420.7 L1650.2,422.5 L1651.1,424.4 L1651.9,426.2 L1652.8,428.1 L1653.6,429.9 L1654.5,431.7 L1655.4,433.5 L1656.2,435.3 L1657.1,437.1 L1658.0,438.9 L1658.9,440.7 L1659.8,442.4 L1660.8,444.2 L1661.7,445.9 L1662.7,447.7 L1663.6,449.4 L1664.6,451.1 L1665.5,452.8 L1666.5,454.5 L1667.5,456.2 L1668.5,457.9 L1669.5,459.6 L1670.5,461.3 L1671.6,462.9 L1672.6,464.6 L1673.6,466.2 L1674.7,467.8 L1675.7,469.5 L1676.8,471.1 L1677.9,472.7 L1679.0,474.3 L1680.1,475.8 L1681.2,477.4 L1682.3,479.0 L1683.4,480.5 L1684.6,482.1 L1685.7,483.6 L1686.9,485.2 L1688.0,486.7 L1689.2,488.2 L1690.4,489.7 L1691.6,491.2 L1692.8,492.7 L1694.0,494.1 L1695.2,495.6 L1696.4,497.0 L1697.6,498.5 L1698.9,499.9 L1700.1,501.4 L1701.4,502.8 L1702.7,504.2 L1704.0,505.6 L1705.3,507.0 L1706.6,508.3 L1707.9,509.7 L1709.2,511.1 L1710.5,512.4 L1711.8,513.8 L1713.2,515.1 L1714.5,516.5 L1715.9,517.8 L1717.2,519.1 L1718.6,520.4 L1720.0,521.8 L1721.3,523.1 L1722.7,524.3 L1724.1,525.6 L1725.5,526.9 L1726.9,528.2 L1728.3,529.5 L1729.8,530.7 L1731.2,532.0 L1732.6,533.3 L1734.0,534.5 L1735.5,535.7 L1736.9,537.0 L1738.4,538.2 L1739.8,539.5 L1741.3,540.7 L1742.7,541.9 L1744.2,543.1 L1745.6,544.3 L1747.1,545.6 L1748.6,546.8 L1750.0,548.0 L1751.5,549.2 L1753.0,550.4 L1754.5,551.6 L1756.0,552.8 L1757.4,554.0 L1758.9,555.2 L1760.4,556.4 L1761.9,557.6 L1763.4,558.8 L1764.9,559.9 L1766.4,561.1 L1767.9,562.3 L1769.4,563.5 L1770.9,564.7 L1772.4,565.9 L1773.9,567.1 L1775.4,568.2 L1776.9,569.4 L1778.4,570.6 L1779.9,571.8 L1781.4,573.0 L1782.8,574.2 L1784.3,575.4 L1785.8,576.6 L1787.3,577.7 L1788.8,578.9 L1790.3,580.1 L1791.8,581.3 L1793.3,582.5 L1794.7,583.7 L1796.2,584.9 L1797.7,586.1 L1799.2,587.3 L1800.7,588.5 L1802.1,589.7 L1803.6,590.9 L1805.1,592.2 L1806.5,593.4 L1808.0,594.6 L1809.5,595.8 L1811.0,597.0 L1812.4,598.2 L1813.9,599.4 L1815.4,600.6 L1816.8,601.9 L1818.3,603.1 L1819.8,604.3 L1821.2,605.5 L1822.7,606.7 L1824.2,607.9 L1825.6,609.2 L1827.1,610.4 L1828.6,611.6 L1830.0,612.8 L1831.5,614.0 L1833.0,615.2 L1834.4,616.4 L1835.9,617.6 L1837.4,618.8 L1838.9,620.1 L1840.3,621.3 L1841.8,622.5 L1843.3,623.7 L1844.8,624.9 L1846.2,626.1 L1847.7,627.3 L1849.2,628.5 L1850.7,629.7 L1852.2,630.9 L1853.7,632.0 L1855.2,633.2 L1856.7,634.4 L1858.2,635.6 L1859.7,636.8 L1861.2,638.0 L1862.7,639.1 L1864.2,640.3 L1865.7,641.5 L1867.2,642.6 L1868.7,643.8 L1870.2,645.0 L1871.8,646.1 L1873.3,647.3 L1874.8,648.4 L1876.4,649.6 L1877.9,650.7 L1879.4,651.9 L1881.0,653.0 L1882.5,654.1 L1884.1,655.2 L1885.7,656.4 L1887.2,657.5 L1888.8,658.6 L1890.4,659.7 L1891.9,660.8 L1893.5,661.9 L1895.1,663.0 L1896.7,664.1 L1898.3,665.2 L1899.9,666.3 L1901.5,667.4 L1903.1,668.4 L1904.7,669.5 L1906.3,670.6 L1907.9,671.7 L1909.5,672.7 L1911.1,673.8 L1912.7,674.9 L1914.4,675.9 L1916.0,677.0 L1917.6,678.1 L1919.2,679.1 L1920.8,680.2 L1922.4,681.3 L1924.0,682.3 L1925.7,683.4 L1927.3,684.5 L1928.9,685.5 L1930.5,686.6 L1932.1,687.7 L1933.7,688.8 L1935.3,689.8 L1936.9,690.9 L1938.5,692.0 L1940.1,693.1 L1941.7,694.2 L1943.3,695.3 L1944.9,696.4 L1946.5,697.5 L1948.0,698.6 L1949.6,699.7 L1951.2,700.8 L1952.7,701.9 L1954.3,703.0 L1955.9,704.1 L1957.4,705.3 L1958.9,706.4 L1960.5,707.6 L1962.0,708.7 L1963.6,709.9 L1965.1,711.0 L1966.6,712.2 L1968.1,713.3 L1969.7,714.5 L1971.2,715.6 L1972.7,716.8 L1974.2,718.0 L1975.7,719.2 L1977.2,720.3 L1978.7,721.5 L1980.2,722.7 L1981.7,723.9 L1983.2,725.0 L1984.7,726.2 L1986.2,727.4 L1987.7,728.6 L1989.2,729.8 L1990.7,731.0 L1992.2,732.2 L1993.7,733.4 L1995.2,734.6 L1996.7,735.7 L1998.2,736.9 L1999.6,738.1 L2001.1,739.3 L2002.6,740.5 L2004.1,741.7 L2005.6,742.9 L2007.1,744.1 L2008.6,745.2 L2010.1,746.4 L2011.6,747.6 L2013.1,748.8 L2014.6,750.0 L2016.1,751.1 L2017.6,752.3 L2019.1,753.5 L2020.6,754.7 L2022.2,755.8 L2023.7,757.0 L2025.2,758.1 L2026.7,759.3 L2028.3,760.4 L2029.8,761.6 L2031.3,762.7 L2032.9,763.9 L2034.4,765.0 L2036.0,766.1 L2037.5,767.3 L2039.1,768.4 L2040.7,769.5 L2042.3,770.6 L2043.8,771.7 L2045.4,772.8 L2047.0,773.9 L2048.6,774.9 L2050.2,776.0 L2051.8,777.1 L2053.5,778.2 L2055.1,779.2 L2056.7,780.3 L2058.4,781.3 L2060.0,782.3 L2061.7,783.3 L2063.3,784.4 L2065.0,785.4 L2066.7,786.4 L2068.4,787.3 L2070.1,788.3 L2071.8,789.3 L2073.5,790.3 L2075.2,791.2 L2077.0,792.1 L2078.7,793.1 L2080.5,794.0 L2082.3,794.9 L2084.1,795.8 L2085.8,796.7 L2087.7,797.6 L2089.5,798.5 L2091.3,799.3 L2093.1,800.2 L2094.9,801.0 L2096.8,801.8 L2098.7,802.7 L2100.5,803.5 L2102.4,804.3 L2104.3,805.1 L2106.2,805.9 L2108.1,806.6 L2110.0,807.4 L2111.9,808.2 L2113.8,808.9 L2115.8,809.7 L2117.7,810.4 L2119.7,811.1 L2121.6,811.9 L2123.6,812.6 L2125.6,813.3 L2127.6,814.0 L2129.6,814.7 L2131.6,815.3 L2133.6,816.0 L2135.6,816.7 L2137.6,817.3 L2139.6,818.0 L2141.7,818.7 L2143.7,819.3 L2145.7,819.9 L2147.8,820.6 L2149.9,821.2 L2151.9,821.8 L2154.0,822.4 L2156.1,823.0 L2158.1,823.6 L2160.2,824.2 L2162.3,824.8 L2164.4,825.4 L2166.5,826.0 L2168.6,826.5 L2170.8,827.1 L2172.9,827.7 L2175.0,828.2 L2177.1,828.8 L2179.3,829.3 L2181.4,829.9 L2183.5,830.4 L2185.7,830.9 L2187.8,831.5 L2190.0,832.0 L2192.2,832.5 L2194.3,833.0 L2196.5,833.5 L2198.7,834.0 L2200.8,834.5 L2203.0,835.0 L2205.2,835.5 L2207.4,836.0 L2209.6,836.5 L2211.8,837.0 L2214.0,837.5 L2216.2,838.0 L2218.4,838.5 L2220.6,838.9 L2222.8,839.4 L2225.0,839.9 L2227.2,840.4 L2229.4,840.8 L2231.6,841.3 L2233.9,841.7 L2236.1,842.2 L2238.3,842.7 L2240.5,843.1 L2242.8,843.6 L2245.0,844.0 L2247.2,844.5 L2249.5,844.9 L2251.7,845.4 L2254.0,845.8 L2256.2,846.2 L2258.4,846.7 L2270.4,849.0" fill="none" stroke="#0000ff" stroke-width="10.8" stroke-linejoin="round" stroke-linecap="butt" clip-path="url(#clip_b)"/>
<rect x="352.5" y="1322.5" width="336.5" height="289.5" fill="#000"/>
<rect x="332.09999999999997" y="1302.0" width="336.0" height="289.2" fill="#fff" stroke="#000" stroke-width="1.8"/>
<line x1="340.4" y1="1338.3" x2="465.7" y2="1338.3" stroke="#000000" stroke-width="10.8"/>
<line x1="340.4" y1="1418.4" x2="465.7" y2="1418.4" stroke="#ff0000" stroke-width="10.8"/>
<line x1="340.4" y1="1489.0" x2="465.7" y2="1489.0" stroke="#00ff00" stroke-width="10.8"/>
<line x1="340.4" y1="1559.8" x2="465.7" y2="1559.8" stroke="#0000ff" stroke-width="10.8"/>
<g font-size="55.5" fill="#000">
<text transform="translate(481.3,1357.3) scale(1,1.02)">RT</text>
<text transform="translate(481.3,1437.3) scale(1,1.02)">150 <tspan font-size="34" dy="-29.5">o</tspan><tspan dy="29.5" dx="-1.4">C</tspan></text>
<text transform="translate(481.3,1508.0) scale(1,1.02)">180 <tspan dy="4.8" dx="-1.5" font-size="55.5">°</tspan><tspan dy="-4.8" dx="-0.5">C</tspan></text>
<text transform="translate(481.3,1578.8) scale(1,1.02)">210 <tspan dy="4.8" dx="-1.5" font-size="55.5">°</tspan><tspan dy="-4.8" dx="-0.5">C</tspan></text>
</g>
<rect x="1385.4" y="1320.6" width="336.4" height="289.6" fill="#000"/>
<rect x="1364.9" y="1299.7" width="335.99999999999994" height="289.99999999999994" fill="#fff" stroke="#000" stroke-width="1.8"/>
<line x1="1373.2" y1="1336.8" x2="1498.5" y2="1336.8" stroke="#000000" stroke-width="10.8"/>
<line x1="1373.2" y1="1416.9" x2="1498.5" y2="1416.9" stroke="#ff0000" stroke-width="10.8"/>
<line x1="1373.2" y1="1487.7" x2="1498.5" y2="1487.7" stroke="#00ff00" stroke-width="10.8"/>
<line x1="1373.2" y1="1557.9" x2="1498.5" y2="1557.9" stroke="#0000ff" stroke-width="10.8"/>
<g font-size="55.5" fill="#000">
<text transform="translate(1514.1,1355.8) scale(1,1.02)">RT</text>
<text transform="translate(1514.1,1435.8) scale(1,1.02)">150 <tspan font-size="34" dy="-29.5">o</tspan><tspan dy="29.5" dx="-1.4">C</tspan></text>
<text transform="translate(1514.1,1506.5) scale(1,1.02)">180 <tspan dy="4.8" dx="-1.5" font-size="55.5">°</tspan><tspan dy="-4.8" dx="-0.5">C</tspan></text>
<text transform="translate(1514.1,1577.3) scale(1,1.02)">210 <tspan dy="4.8" dx="-1.5" font-size="55.5">°</tspan><tspan dy="-4.8" dx="-0.5">C</tspan></text>
</g>
<text x="330.6" y="1262.0" font-size="69.4" fill="#0000ff">poly(<tspan font-style="italic">p</tspan>PP-BZ)</text>
<text x="1358.0" y="1260.2" font-size="69.4" fill="#0000ff">poly(<tspan font-style="italic">o</tspan>PP-BZ)</text>
<text x="325.3" y="90.4" font-size="71" fill="#000">(a)</text>
<text x="1353.2" y="90.4" font-size="71" fill="#000">(b)</text>
<text transform="translate(137.6,839.3) rotate(-90)" font-size="81.4" text-anchor="middle" fill="#000">Weight Loss (%)</text>
<text x="989.0" y="1824.1" font-size="81.0" fill="#000">Temperature (<tspan font-size="50" dy="-44.3" dx="-0.5">o</tspan><tspan dy="44.3" dx="-1.0">C</tspan><tspan dx="4.0">)</tspan></text>
</svg>
</body>
</html>
